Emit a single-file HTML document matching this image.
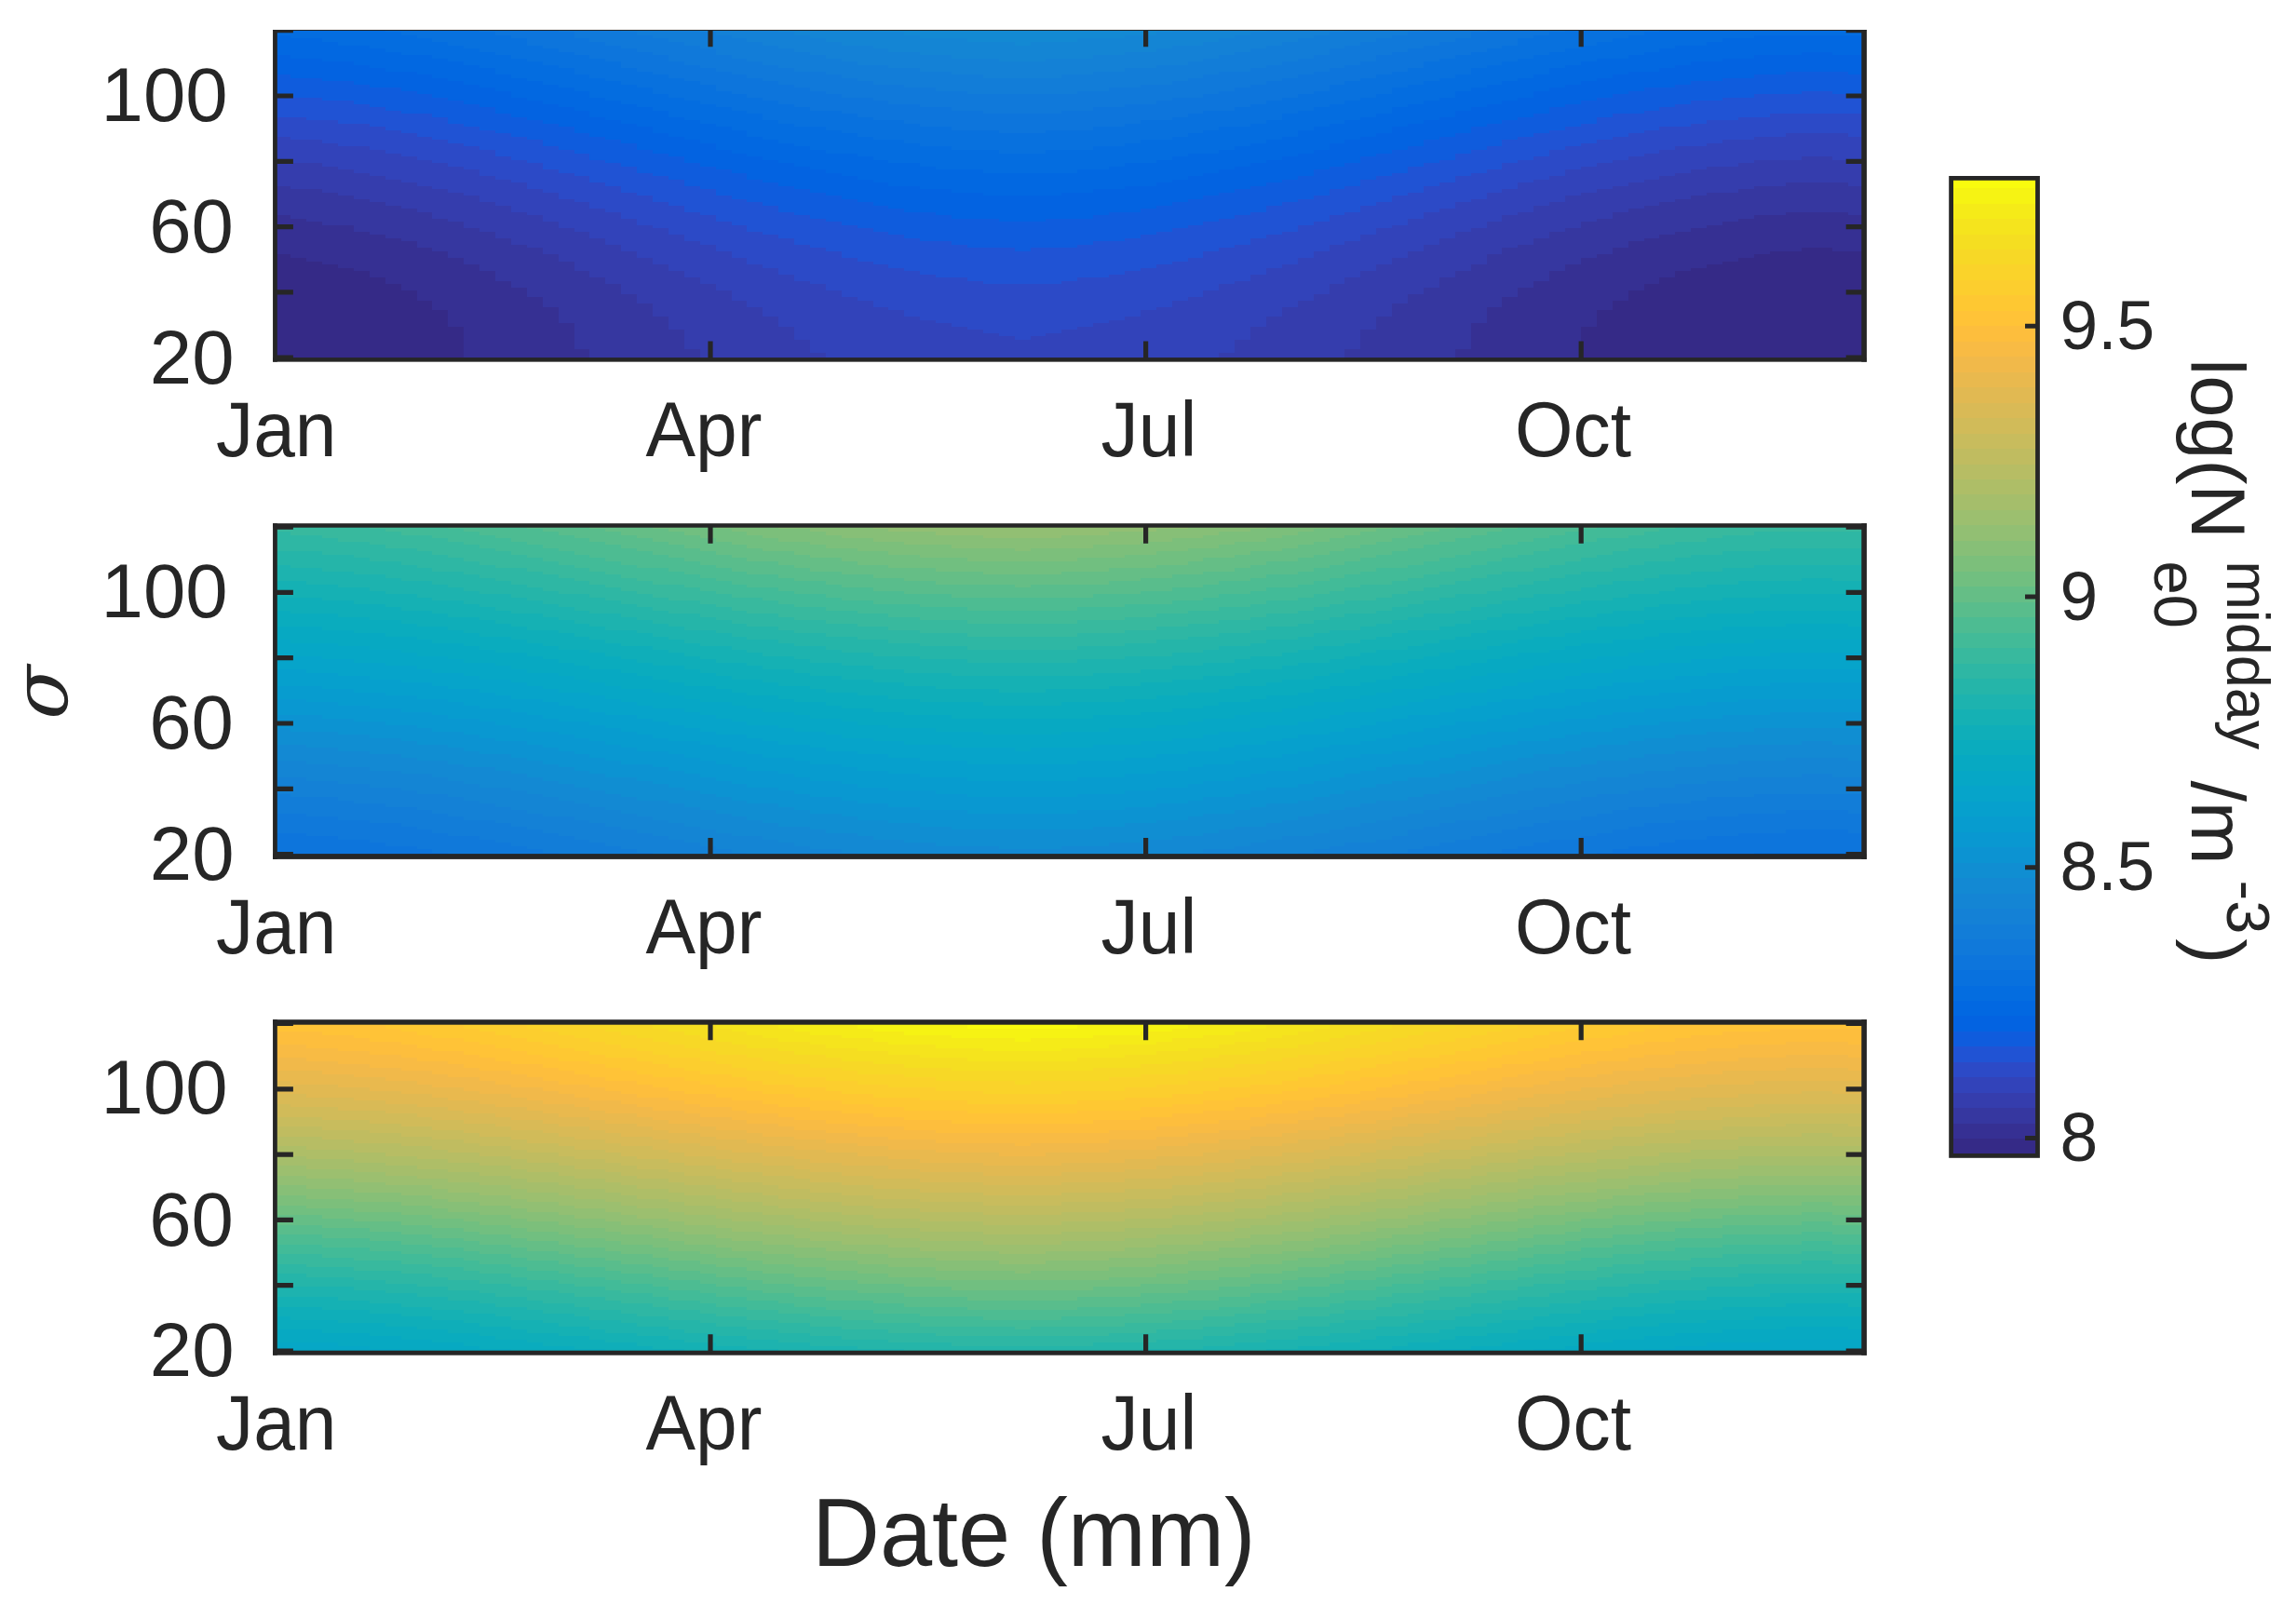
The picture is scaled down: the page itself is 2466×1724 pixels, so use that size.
<!DOCTYPE html>
<html><head><meta charset="utf-8"><title>figure</title>
<style>html,body{margin:0;padding:0;background:#fff}svg{display:block}text{font-family:"Liberation Sans",sans-serif;fill:#262626}</style></head><body>
<svg width="2466" height="1724" viewBox="0 0 2466 1724">
<rect width="2466" height="1724" fill="#fff"/>
<defs><clipPath id="c0"><rect x="0" y="32.0" width="2466" height="1724"/></clipPath></defs>
<g clip-path="url(#c0)"><g transform="translate(295.50 30.94) scale(16.89703 3.51500)" shape-rendering="crispEdges">
<path fill="#352a87" d="M97 67h2v1h-2zM95 68h6v1h-6zM0 69h1v1h-1zM94 69h7v1h-7zM0 70h2v1h-2zM93 70h8v1h-8zM0 71h3v1h-3zM92 71h9v1h-9zM0 72h4v1h-4zM91 72h10v1h-10zM0 73h5v1h-5zM90 73h11v1h-11zM0 74h6v1h-6zM89 74h12v1h-12zM0 75h6v1h-6zM89 75h12v1h-12zM0 76h7v1h-7zM88 76h13v1h-13zM0 77h7v1h-7zM88 77h13v1h-13zM0 78h8v1h-8zM87 78h14v1h-14zM0 79h8v1h-8zM87 79h14v1h-14zM0 80h9v1h-9zM86 80h15v1h-15zM0 81h9v1h-9zM86 81h15v1h-15zM0 82h9v1h-9zM86 82h15v1h-15zM0 83h10v1h-10zM85 83h16v1h-16zM0 84h10v1h-10zM85 84h16v1h-16zM0 85h10v1h-10zM85 85h16v1h-16zM0 86h11v1h-11zM84 86h17v1h-17zM0 87h11v1h-11zM84 87h17v1h-17zM0 88h11v1h-11zM84 88h17v1h-17zM0 89h11v1h-11zM84 89h17v1h-17zM0 90h11v1h-11zM84 90h17v1h-17zM0 91h12v1h-12zM83 91h18v1h-18zM0 92h12v1h-12zM83 92h18v1h-18zM0 93h12v1h-12zM83 93h18v1h-18zM0 94h12v1h-12zM83 94h18v1h-18zM0 95h12v1h-12zM83 95h18v1h-18zM0 96h12v1h-12zM83 96h18v1h-18zM0 97h12v1h-12zM83 97h18v1h-18zM0 98h12v1h-12zM83 98h18v1h-18zM0 99h12v1h-12zM83 99h18v1h-18zM0 100h12v1h-12zM83 100h18v1h-18z"/>
<path fill="#363093" d="M96 56h4v1h-4zM0 57h1v1h-1zM94 57h7v1h-7zM0 58h2v1h-2zM93 58h8v1h-8zM0 59h3v1h-3zM92 59h9v1h-9zM0 60h5v1h-5zM91 60h10v1h-10zM0 61h5v1h-5zM90 61h11v1h-11zM0 62h6v1h-6zM89 62h12v1h-12zM0 63h7v1h-7zM88 63h13v1h-13zM0 64h8v1h-8zM87 64h14v1h-14zM0 65h9v1h-9zM86 65h15v1h-15zM0 66h9v1h-9zM86 66h15v1h-15zM0 67h10v1h-10zM85 67h12v1h-12zM99 67h2v1h-2zM0 68h11v1h-11zM85 68h10v1h-10zM1 69h10v1h-10zM84 69h10v1h-10zM2 70h10v1h-10zM83 70h10v1h-10zM3 71h9v1h-9zM83 71h9v1h-9zM4 72h9v1h-9zM82 72h9v1h-9zM5 73h8v1h-8zM82 73h8v1h-8zM6 74h8v1h-8zM81 74h8v1h-8zM6 75h8v1h-8zM81 75h8v1h-8zM7 76h7v1h-7zM81 76h7v1h-7zM7 77h8v1h-8zM80 77h8v1h-8zM8 78h7v1h-7zM80 78h7v1h-7zM8 79h8v1h-8zM79 79h8v1h-8zM9 80h7v1h-7zM79 80h7v1h-7zM9 81h7v1h-7zM79 81h7v1h-7zM9 82h8v1h-8zM78 82h8v1h-8zM10 83h7v1h-7zM78 83h7v1h-7zM10 84h7v1h-7zM78 84h7v1h-7zM10 85h8v1h-8zM77 85h8v1h-8zM11 86h7v1h-7zM77 86h7v1h-7zM11 87h7v1h-7zM77 87h7v1h-7zM11 88h7v1h-7zM77 88h7v1h-7zM11 89h7v1h-7zM77 89h7v1h-7zM11 90h8v1h-8zM76 90h8v1h-8zM12 91h7v1h-7zM76 91h7v1h-7zM12 92h7v1h-7zM76 92h7v1h-7zM12 93h7v1h-7zM76 93h7v1h-7zM12 94h7v1h-7zM76 94h7v1h-7zM12 95h7v1h-7zM76 95h7v1h-7zM12 96h7v1h-7zM76 96h7v1h-7zM12 97h7v1h-7zM76 97h7v1h-7zM12 98h8v1h-8zM75 98h8v1h-8zM12 99h8v1h-8zM75 99h8v1h-8zM12 100h8v1h-8zM75 100h8v1h-8z"/>
<path fill="#3637a0" d="M96 47h4v1h-4zM0 48h1v1h-1zM94 48h7v1h-7zM0 49h3v1h-3zM93 49h8v1h-8zM0 50h4v1h-4zM91 50h10v1h-10zM0 51h5v1h-5zM90 51h11v1h-11zM0 52h6v1h-6zM89 52h12v1h-12zM0 53h7v1h-7zM88 53h13v1h-13zM0 54h8v1h-8zM87 54h14v1h-14zM0 55h9v1h-9zM86 55h15v1h-15zM0 56h10v1h-10zM85 56h11v1h-11zM100 56h1v1h-1zM1 57h9v1h-9zM85 57h9v1h-9zM2 58h9v1h-9zM84 58h9v1h-9zM3 59h9v1h-9zM83 59h9v1h-9zM5 60h7v1h-7zM83 60h8v1h-8zM5 61h8v1h-8zM82 61h8v1h-8zM6 62h8v1h-8zM81 62h8v1h-8zM7 63h7v1h-7zM81 63h7v1h-7zM8 64h7v1h-7zM80 64h7v1h-7zM9 65h6v1h-6zM80 65h6v1h-6zM9 66h7v1h-7zM79 66h7v1h-7zM10 67h7v1h-7zM78 67h7v1h-7zM11 68h6v1h-6zM78 68h7v1h-7zM11 69h7v1h-7zM77 69h7v1h-7zM12 70h6v1h-6zM77 70h6v1h-6zM12 71h7v1h-7zM77 71h6v1h-6zM13 72h6v1h-6zM76 72h6v1h-6zM13 73h6v1h-6zM76 73h6v1h-6zM14 74h6v1h-6zM75 74h6v1h-6zM14 75h6v1h-6zM75 75h6v1h-6zM14 76h7v1h-7zM74 76h7v1h-7zM15 77h6v1h-6zM74 77h6v1h-6zM15 78h7v1h-7zM74 78h6v1h-6zM16 79h6v1h-6zM73 79h6v1h-6zM16 80h6v1h-6zM73 80h6v1h-6zM16 81h7v1h-7zM72 81h7v1h-7zM17 82h6v1h-6zM72 82h6v1h-6zM17 83h6v1h-6zM72 83h6v1h-6zM17 84h7v1h-7zM71 84h7v1h-7zM18 85h6v1h-6zM71 85h6v1h-6zM18 86h6v1h-6zM71 86h6v1h-6zM18 87h6v1h-6zM71 87h6v1h-6zM18 88h7v1h-7zM70 88h7v1h-7zM18 89h7v1h-7zM70 89h7v1h-7zM19 90h6v1h-6zM70 90h6v1h-6zM19 91h6v1h-6zM70 91h6v1h-6zM19 92h7v1h-7zM69 92h7v1h-7zM19 93h7v1h-7zM69 93h7v1h-7zM19 94h7v1h-7zM69 94h7v1h-7zM19 95h7v1h-7zM69 95h7v1h-7zM19 96h7v1h-7zM69 96h7v1h-7zM19 97h7v1h-7zM69 97h7v1h-7zM20 98h7v1h-7zM68 98h7v1h-7zM20 99h7v1h-7zM68 99h7v1h-7zM20 100h7v1h-7zM68 100h7v1h-7z"/>
<path fill="#353dad" d="M97 39h2v1h-2zM0 40h1v1h-1zM94 40h7v1h-7zM0 41h3v1h-3zM93 41h8v1h-8zM0 42h4v1h-4zM91 42h10v1h-10zM0 43h5v1h-5zM90 43h11v1h-11zM0 44h6v1h-6zM89 44h12v1h-12zM0 45h7v1h-7zM88 45h13v1h-13zM0 46h8v1h-8zM87 46h14v1h-14zM0 47h9v1h-9zM86 47h10v1h-10zM100 47h1v1h-1zM1 48h9v1h-9zM85 48h9v1h-9zM3 49h8v1h-8zM84 49h9v1h-9zM4 50h8v1h-8zM83 50h8v1h-8zM5 51h8v1h-8zM82 51h8v1h-8zM6 52h7v1h-7zM82 52h7v1h-7zM7 53h7v1h-7zM81 53h7v1h-7zM8 54h7v1h-7zM80 54h7v1h-7zM9 55h6v1h-6zM80 55h6v1h-6zM10 56h6v1h-6zM79 56h6v1h-6zM10 57h7v1h-7zM78 57h7v1h-7zM11 58h6v1h-6zM78 58h6v1h-6zM12 59h6v1h-6zM77 59h6v1h-6zM12 60h6v1h-6zM77 60h6v1h-6zM13 61h6v1h-6zM76 61h6v1h-6zM14 62h6v1h-6zM75 62h6v1h-6zM14 63h6v1h-6zM75 63h6v1h-6zM15 64h6v1h-6zM74 64h6v1h-6zM15 65h6v1h-6zM74 65h6v1h-6zM16 66h6v1h-6zM73 66h6v1h-6zM17 67h5v1h-5zM73 67h5v1h-5zM17 68h6v1h-6zM72 68h6v1h-6zM18 69h5v1h-5zM72 69h5v1h-5zM18 70h6v1h-6zM71 70h6v1h-6zM19 71h5v1h-5zM71 71h6v1h-6zM19 72h6v1h-6zM70 72h6v1h-6zM19 73h6v1h-6zM70 73h6v1h-6zM20 74h6v1h-6zM69 74h6v1h-6zM20 75h6v1h-6zM69 75h6v1h-6zM21 76h6v1h-6zM68 76h6v1h-6zM21 77h6v1h-6zM68 77h6v1h-6zM22 78h6v1h-6zM67 78h7v1h-7zM22 79h6v1h-6zM67 79h6v1h-6zM22 80h7v1h-7zM67 80h6v1h-6zM23 81h6v1h-6zM66 81h6v1h-6zM23 82h6v1h-6zM66 82h6v1h-6zM23 83h7v1h-7zM65 83h7v1h-7zM24 84h6v1h-6zM65 84h6v1h-6zM24 85h7v1h-7zM64 85h7v1h-7zM24 86h7v1h-7zM64 86h7v1h-7zM24 87h7v1h-7zM64 87h7v1h-7zM25 88h7v1h-7zM63 88h7v1h-7zM25 89h7v1h-7zM63 89h7v1h-7zM25 90h7v1h-7zM63 90h7v1h-7zM25 91h8v1h-8zM62 91h8v1h-8zM26 92h7v1h-7zM62 92h7v1h-7zM26 93h7v1h-7zM62 93h7v1h-7zM26 94h7v1h-7zM62 94h7v1h-7zM26 95h8v1h-8zM61 95h8v1h-8zM26 96h8v1h-8zM61 96h8v1h-8zM26 97h8v1h-8zM61 97h8v1h-8zM27 98h7v1h-7zM61 98h7v1h-7zM27 99h8v1h-8zM60 99h8v1h-8zM27 100h8v1h-8zM60 100h8v1h-8z"/>
<path fill="#3243ba" d="M96 32h4v1h-4zM0 33h1v1h-1zM94 33h7v1h-7zM0 34h3v1h-3zM92 34h9v1h-9zM0 35h4v1h-4zM91 35h10v1h-10zM0 36h6v1h-6zM89 36h12v1h-12zM0 37h7v1h-7zM88 37h13v1h-13zM0 38h8v1h-8zM87 38h14v1h-14zM0 39h9v1h-9zM86 39h11v1h-11zM99 39h2v1h-2zM1 40h9v1h-9zM85 40h9v1h-9zM3 41h8v1h-8zM84 41h9v1h-9zM4 42h8v1h-8zM83 42h8v1h-8zM5 43h8v1h-8zM82 43h8v1h-8zM6 44h7v1h-7zM82 44h7v1h-7zM7 45h7v1h-7zM81 45h7v1h-7zM8 46h7v1h-7zM80 46h7v1h-7zM9 47h7v1h-7zM79 47h7v1h-7zM10 48h6v1h-6zM79 48h6v1h-6zM11 49h6v1h-6zM78 49h6v1h-6zM12 50h6v1h-6zM77 50h6v1h-6zM13 51h5v1h-5zM77 51h5v1h-5zM13 52h6v1h-6zM76 52h6v1h-6zM14 53h6v1h-6zM75 53h6v1h-6zM15 54h5v1h-5zM75 54h5v1h-5zM15 55h6v1h-6zM74 55h6v1h-6zM16 56h6v1h-6zM73 56h6v1h-6zM17 57h5v1h-5zM73 57h5v1h-5zM17 58h6v1h-6zM72 58h6v1h-6zM18 59h5v1h-5zM72 59h5v1h-5zM18 60h6v1h-6zM71 60h6v1h-6zM19 61h6v1h-6zM70 61h6v1h-6zM20 62h5v1h-5zM70 62h5v1h-5zM20 63h6v1h-6zM69 63h6v1h-6zM21 64h5v1h-5zM69 64h5v1h-5zM21 65h6v1h-6zM68 65h6v1h-6zM22 66h6v1h-6zM67 66h6v1h-6zM22 67h6v1h-6zM67 67h6v1h-6zM23 68h6v1h-6zM66 68h6v1h-6zM23 69h6v1h-6zM66 69h6v1h-6zM24 70h6v1h-6zM65 70h6v1h-6zM24 71h6v1h-6zM65 71h6v1h-6zM25 72h6v1h-6zM64 72h6v1h-6zM25 73h7v1h-7zM63 73h7v1h-7zM26 74h6v1h-6zM63 74h6v1h-6zM26 75h7v1h-7zM62 75h7v1h-7zM27 76h6v1h-6zM62 76h6v1h-6zM27 77h7v1h-7zM61 77h7v1h-7zM28 78h7v1h-7zM60 78h7v1h-7zM28 79h7v1h-7zM60 79h7v1h-7zM29 80h7v1h-7zM59 80h8v1h-8zM29 81h7v1h-7zM59 81h7v1h-7zM29 82h8v1h-8zM58 82h8v1h-8zM30 83h8v1h-8zM57 83h8v1h-8zM30 84h8v1h-8zM57 84h8v1h-8zM31 85h8v1h-8zM56 85h8v1h-8zM31 86h9v1h-9zM55 86h9v1h-9zM31 87h9v1h-9zM55 87h9v1h-9zM32 88h9v1h-9zM54 88h9v1h-9zM32 89h10v1h-10zM53 89h10v1h-10zM32 90h11v1h-11zM52 90h11v1h-11zM33 91h11v1h-11zM51 91h11v1h-11zM33 92h12v1h-12zM50 92h12v1h-12zM33 93h13v1h-13zM49 93h13v1h-13zM33 94h14v1h-14zM48 94h14v1h-14zM34 95h27v1h-27zM34 96h27v1h-27zM34 97h27v1h-27zM34 98h27v1h-27zM35 99h25v1h-25zM35 100h25v1h-25z"/>
<path fill="#2c4ac7" d="M95 26h6v1h-6zM0 27h2v1h-2zM93 27h8v1h-8zM0 28h4v1h-4zM91 28h10v1h-10zM0 29h6v1h-6zM90 29h11v1h-11zM0 30h7v1h-7zM88 30h13v1h-13zM0 31h8v1h-8zM87 31h14v1h-14zM0 32h9v1h-9zM86 32h10v1h-10zM100 32h1v1h-1zM1 33h9v1h-9zM85 33h9v1h-9zM3 34h8v1h-8zM84 34h8v1h-8zM4 35h8v1h-8zM83 35h8v1h-8zM6 36h7v1h-7zM82 36h7v1h-7zM7 37h7v1h-7zM81 37h7v1h-7zM8 38h6v1h-6zM81 38h6v1h-6zM9 39h6v1h-6zM80 39h6v1h-6zM10 40h6v1h-6zM79 40h6v1h-6zM11 41h6v1h-6zM78 41h6v1h-6zM12 42h5v1h-5zM78 42h5v1h-5zM13 43h5v1h-5zM77 43h5v1h-5zM13 44h6v1h-6zM76 44h6v1h-6zM14 45h6v1h-6zM75 45h6v1h-6zM15 46h5v1h-5zM75 46h5v1h-5zM16 47h5v1h-5zM74 47h5v1h-5zM16 48h6v1h-6zM73 48h6v1h-6zM17 49h5v1h-5zM73 49h5v1h-5zM18 50h5v1h-5zM72 50h5v1h-5zM18 51h6v1h-6zM71 51h6v1h-6zM19 52h5v1h-5zM71 52h5v1h-5zM20 53h5v1h-5zM70 53h5v1h-5zM20 54h6v1h-6zM69 54h6v1h-6zM21 55h5v1h-5zM69 55h5v1h-5zM22 56h5v1h-5zM68 56h5v1h-5zM22 57h6v1h-6zM67 57h6v1h-6zM23 58h5v1h-5zM67 58h5v1h-5zM23 59h6v1h-6zM66 59h6v1h-6zM24 60h6v1h-6zM65 60h6v1h-6zM25 61h5v1h-5zM65 61h5v1h-5zM25 62h6v1h-6zM64 62h6v1h-6zM26 63h6v1h-6zM63 63h6v1h-6zM26 64h7v1h-7zM62 64h7v1h-7zM27 65h6v1h-6zM62 65h6v1h-6zM28 66h6v1h-6zM61 66h6v1h-6zM28 67h7v1h-7zM60 67h7v1h-7zM29 68h7v1h-7zM59 68h7v1h-7zM29 69h7v1h-7zM59 69h7v1h-7zM30 70h7v1h-7zM58 70h7v1h-7zM30 71h8v1h-8zM57 71h8v1h-8zM31 72h8v1h-8zM56 72h8v1h-8zM32 73h8v1h-8zM55 73h8v1h-8zM32 74h9v1h-9zM54 74h9v1h-9zM33 75h9v1h-9zM53 75h9v1h-9zM33 76h11v1h-11zM51 76h11v1h-11zM34 77h11v1h-11zM50 77h11v1h-11zM35 78h25v1h-25zM35 79h25v1h-25zM36 80h23v1h-23zM36 81h23v1h-23zM37 82h21v1h-21zM38 83h19v1h-19zM38 84h19v1h-19zM39 85h17v1h-17zM40 86h15v1h-15zM40 87h15v1h-15zM41 88h13v1h-13zM42 89h11v1h-11zM43 90h9v1h-9zM44 91h7v1h-7zM45 92h5v1h-5zM46 93h3v1h-3zM47 94h1v1h-1z"/>
<path fill="#2053d4" d="M97 19h2v1h-2zM0 20h1v1h-1zM94 20h7v1h-7zM0 21h3v1h-3zM92 21h9v1h-9zM0 22h5v1h-5zM90 22h11v1h-11zM0 23h6v1h-6zM89 23h12v1h-12zM0 24h7v1h-7zM88 24h13v1h-13zM0 25h8v1h-8zM87 25h14v1h-14zM0 26h10v1h-10zM85 26h10v1h-10zM2 27h9v1h-9zM84 27h9v1h-9zM4 28h7v1h-7zM84 28h7v1h-7zM6 29h6v1h-6zM83 29h7v1h-7zM7 30h6v1h-6zM82 30h6v1h-6zM8 31h6v1h-6zM81 31h6v1h-6zM9 32h6v1h-6zM80 32h6v1h-6zM10 33h6v1h-6zM79 33h6v1h-6zM11 34h6v1h-6zM78 34h6v1h-6zM12 35h5v1h-5zM78 35h5v1h-5zM13 36h5v1h-5zM77 36h5v1h-5zM14 37h5v1h-5zM76 37h5v1h-5zM14 38h6v1h-6zM75 38h6v1h-6zM15 39h5v1h-5zM75 39h5v1h-5zM16 40h5v1h-5zM74 40h5v1h-5zM17 41h5v1h-5zM73 41h5v1h-5zM17 42h6v1h-6zM72 42h6v1h-6zM18 43h5v1h-5zM72 43h5v1h-5zM19 44h5v1h-5zM71 44h5v1h-5zM20 45h5v1h-5zM70 45h5v1h-5zM20 46h6v1h-6zM69 46h6v1h-6zM21 47h5v1h-5zM69 47h5v1h-5zM22 48h5v1h-5zM68 48h5v1h-5zM22 49h6v1h-6zM67 49h6v1h-6zM23 50h5v1h-5zM67 50h5v1h-5zM24 51h5v1h-5zM66 51h5v1h-5zM24 52h6v1h-6zM65 52h6v1h-6zM25 53h6v1h-6zM64 53h6v1h-6zM26 54h6v1h-6zM63 54h6v1h-6zM26 55h6v1h-6zM63 55h6v1h-6zM27 56h6v1h-6zM62 56h6v1h-6zM28 57h6v1h-6zM61 57h6v1h-6zM28 58h7v1h-7zM60 58h7v1h-7zM29 59h7v1h-7zM59 59h7v1h-7zM30 60h7v1h-7zM58 60h7v1h-7zM30 61h8v1h-8zM57 61h8v1h-8zM31 62h8v1h-8zM56 62h8v1h-8zM32 63h8v1h-8zM55 63h8v1h-8zM33 64h8v1h-8zM54 64h8v1h-8zM33 65h10v1h-10zM52 65h10v1h-10zM34 66h10v1h-10zM51 66h10v1h-10zM35 67h12v1h-12zM48 67h12v1h-12zM36 68h23v1h-23zM36 69h23v1h-23zM37 70h21v1h-21zM38 71h19v1h-19zM39 72h17v1h-17zM40 73h15v1h-15zM41 74h13v1h-13zM42 75h11v1h-11zM44 76h7v1h-7zM45 77h5v1h-5z"/>
<path fill="#0f5cdd" d="M96 13h4v1h-4zM0 14h1v1h-1zM94 14h7v1h-7zM0 15h3v1h-3zM92 15h9v1h-9zM0 16h5v1h-5zM90 16h11v1h-11zM0 17h6v1h-6zM89 17h12v1h-12zM0 18h8v1h-8zM87 18h14v1h-14zM0 19h9v1h-9zM86 19h11v1h-11zM99 19h2v1h-2zM1 20h9v1h-9zM85 20h9v1h-9zM3 21h8v1h-8zM84 21h8v1h-8zM5 22h7v1h-7zM83 22h7v1h-7zM6 23h7v1h-7zM82 23h7v1h-7zM7 24h7v1h-7zM81 24h7v1h-7zM8 25h6v1h-6zM81 25h6v1h-6zM10 26h5v1h-5zM80 26h5v1h-5zM11 27h5v1h-5zM79 27h5v1h-5zM11 28h6v1h-6zM78 28h6v1h-6zM12 29h6v1h-6zM77 29h6v1h-6zM13 30h6v1h-6zM76 30h6v1h-6zM14 31h5v1h-5zM76 31h5v1h-5zM15 32h5v1h-5zM75 32h5v1h-5zM16 33h5v1h-5zM74 33h5v1h-5zM17 34h5v1h-5zM73 34h5v1h-5zM17 35h6v1h-6zM73 35h5v1h-5zM18 36h5v1h-5zM72 36h5v1h-5zM19 37h5v1h-5zM71 37h5v1h-5zM20 38h5v1h-5zM70 38h5v1h-5zM20 39h6v1h-6zM69 39h6v1h-6zM21 40h5v1h-5zM69 40h5v1h-5zM22 41h5v1h-5zM68 41h5v1h-5zM23 42h5v1h-5zM67 42h5v1h-5zM23 43h6v1h-6zM66 43h6v1h-6zM24 44h6v1h-6zM66 44h5v1h-5zM25 45h5v1h-5zM65 45h5v1h-5zM26 46h5v1h-5zM64 46h5v1h-5zM26 47h6v1h-6zM63 47h6v1h-6zM27 48h6v1h-6zM62 48h6v1h-6zM28 49h6v1h-6zM61 49h6v1h-6zM28 50h7v1h-7zM60 50h7v1h-7zM29 51h7v1h-7zM59 51h7v1h-7zM30 52h7v1h-7zM58 52h7v1h-7zM31 53h7v1h-7zM57 53h7v1h-7zM32 54h7v1h-7zM56 54h7v1h-7zM32 55h8v1h-8zM55 55h8v1h-8zM33 56h9v1h-9zM53 56h9v1h-9zM34 57h9v1h-9zM52 57h9v1h-9zM35 58h11v1h-11zM49 58h11v1h-11zM36 59h23v1h-23zM37 60h21v1h-21zM38 61h19v1h-19zM39 62h17v1h-17zM40 63h15v1h-15zM41 64h13v1h-13zM43 65h9v1h-9zM44 66h7v1h-7zM47 67h1v1h-1z"/>
<path fill="#0363e1" d="M97 7h2v1h-2zM0 8h1v1h-1zM94 8h7v1h-7zM0 9h3v1h-3zM92 9h9v1h-9zM0 10h5v1h-5zM90 10h11v1h-11zM0 11h6v1h-6zM89 11h12v1h-12zM0 12h7v1h-7zM88 12h13v1h-13zM0 13h9v1h-9zM86 13h10v1h-10zM100 13h1v1h-1zM1 14h9v1h-9zM85 14h9v1h-9zM3 15h8v1h-8zM84 15h8v1h-8zM5 16h7v1h-7zM83 16h7v1h-7zM6 17h7v1h-7zM82 17h7v1h-7zM8 18h6v1h-6zM81 18h6v1h-6zM9 19h6v1h-6zM80 19h6v1h-6zM10 20h5v1h-5zM80 20h5v1h-5zM11 21h5v1h-5zM79 21h5v1h-5zM12 22h5v1h-5zM78 22h5v1h-5zM13 23h5v1h-5zM77 23h5v1h-5zM14 24h5v1h-5zM76 24h5v1h-5zM14 25h6v1h-6zM75 25h6v1h-6zM15 26h5v1h-5zM75 26h5v1h-5zM16 27h5v1h-5zM74 27h5v1h-5zM17 28h5v1h-5zM73 28h5v1h-5zM18 29h5v1h-5zM72 29h5v1h-5zM19 30h5v1h-5zM71 30h5v1h-5zM19 31h5v1h-5zM71 31h5v1h-5zM20 32h5v1h-5zM70 32h5v1h-5zM21 33h5v1h-5zM69 33h5v1h-5zM22 34h5v1h-5zM68 34h5v1h-5zM23 35h5v1h-5zM67 35h6v1h-6zM23 36h5v1h-5zM67 36h5v1h-5zM24 37h5v1h-5zM66 37h5v1h-5zM25 38h5v1h-5zM65 38h5v1h-5zM26 39h5v1h-5zM64 39h5v1h-5zM26 40h6v1h-6zM63 40h6v1h-6zM27 41h6v1h-6zM62 41h6v1h-6zM28 42h6v1h-6zM61 42h6v1h-6zM29 43h6v1h-6zM60 43h6v1h-6zM30 44h6v1h-6zM59 44h7v1h-7zM30 45h7v1h-7zM58 45h7v1h-7zM31 46h7v1h-7zM57 46h7v1h-7zM32 47h7v1h-7zM56 47h7v1h-7zM33 48h8v1h-8zM54 48h8v1h-8zM34 49h9v1h-9zM52 49h9v1h-9zM35 50h10v1h-10zM50 50h10v1h-10zM36 51h23v1h-23zM37 52h21v1h-21zM38 53h19v1h-19zM39 54h17v1h-17zM40 55h15v1h-15zM42 56h11v1h-11zM43 57h9v1h-9zM46 58h3v1h-3z"/>
<path fill="#0268e1" d="M0 2h1v1h-1zM94 2h7v1h-7zM0 3h3v1h-3zM92 3h9v1h-9zM0 4h4v1h-4zM91 4h10v1h-10zM0 5h6v1h-6zM89 5h12v1h-12zM0 6h7v1h-7zM88 6h13v1h-13zM0 7h8v1h-8zM87 7h10v1h-10zM99 7h2v1h-2zM1 8h9v1h-9zM86 8h8v1h-8zM3 9h8v1h-8zM84 9h8v1h-8zM5 10h7v1h-7zM83 10h7v1h-7zM6 11h7v1h-7zM82 11h7v1h-7zM7 12h7v1h-7zM81 12h7v1h-7zM9 13h5v1h-5zM81 13h5v1h-5zM10 14h5v1h-5zM80 14h5v1h-5zM11 15h5v1h-5zM79 15h5v1h-5zM12 16h5v1h-5zM78 16h5v1h-5zM13 17h5v1h-5zM77 17h5v1h-5zM14 18h5v1h-5zM76 18h5v1h-5zM15 19h5v1h-5zM75 19h5v1h-5zM15 20h5v1h-5zM75 20h5v1h-5zM16 21h5v1h-5zM74 21h5v1h-5zM17 22h5v1h-5zM73 22h5v1h-5zM18 23h5v1h-5zM72 23h5v1h-5zM19 24h5v1h-5zM71 24h5v1h-5zM20 25h5v1h-5zM71 25h4v1h-4zM20 26h5v1h-5zM70 26h5v1h-5zM21 27h5v1h-5zM69 27h5v1h-5zM22 28h5v1h-5zM68 28h5v1h-5zM23 29h5v1h-5zM67 29h5v1h-5zM24 30h5v1h-5zM66 30h5v1h-5zM24 31h6v1h-6zM65 31h6v1h-6zM25 32h5v1h-5zM65 32h5v1h-5zM26 33h5v1h-5zM64 33h5v1h-5zM27 34h5v1h-5zM63 34h5v1h-5zM28 35h5v1h-5zM62 35h5v1h-5zM28 36h6v1h-6zM61 36h6v1h-6zM29 37h6v1h-6zM60 37h6v1h-6zM30 38h7v1h-7zM58 38h7v1h-7zM31 39h7v1h-7zM57 39h7v1h-7zM32 40h7v1h-7zM56 40h7v1h-7zM33 41h8v1h-8zM54 41h8v1h-8zM34 42h8v1h-8zM53 42h8v1h-8zM35 43h10v1h-10zM51 43h9v1h-9zM36 44h23v1h-23zM37 45h21v1h-21zM38 46h19v1h-19zM39 47h17v1h-17zM41 48h13v1h-13zM43 49h9v1h-9zM45 50h5v1h-5z"/>
<path fill="#046de0" d="M0 0h7v1h-7zM88 0h13v1h-13zM0 1h8v1h-8zM87 1h14v1h-14zM1 2h8v1h-8zM86 2h8v1h-8zM3 3h7v1h-7zM85 3h7v1h-7zM4 4h7v1h-7zM84 4h7v1h-7zM6 5h6v1h-6zM83 5h6v1h-6zM7 6h6v1h-6zM82 6h6v1h-6zM8 7h6v1h-6zM81 7h6v1h-6zM10 8h5v1h-5zM80 8h6v1h-6zM11 9h5v1h-5zM79 9h5v1h-5zM12 10h5v1h-5zM78 10h5v1h-5zM13 11h5v1h-5zM77 11h5v1h-5zM14 12h5v1h-5zM76 12h5v1h-5zM14 13h5v1h-5zM76 13h5v1h-5zM15 14h5v1h-5zM75 14h5v1h-5zM16 15h5v1h-5zM74 15h5v1h-5zM17 16h5v1h-5zM73 16h5v1h-5zM18 17h5v1h-5zM72 17h5v1h-5zM19 18h5v1h-5zM71 18h5v1h-5zM20 19h4v1h-4zM71 19h4v1h-4zM20 20h5v1h-5zM70 20h5v1h-5zM21 21h5v1h-5zM69 21h5v1h-5zM22 22h5v1h-5zM68 22h5v1h-5zM23 23h5v1h-5zM67 23h5v1h-5zM24 24h5v1h-5zM66 24h5v1h-5zM25 25h5v1h-5zM65 25h6v1h-6zM25 26h6v1h-6zM64 26h6v1h-6zM26 27h5v1h-5zM64 27h5v1h-5zM27 28h5v1h-5zM63 28h5v1h-5zM28 29h5v1h-5zM62 29h5v1h-5zM29 30h6v1h-6zM60 30h6v1h-6zM30 31h6v1h-6zM59 31h6v1h-6zM30 32h7v1h-7zM58 32h7v1h-7zM31 33h7v1h-7zM57 33h7v1h-7zM32 34h8v1h-8zM55 34h8v1h-8zM33 35h8v1h-8zM54 35h8v1h-8zM34 36h9v1h-9zM52 36h9v1h-9zM35 37h11v1h-11zM49 37h11v1h-11zM37 38h21v1h-21zM38 39h19v1h-19zM39 40h17v1h-17zM41 41h13v1h-13zM42 42h11v1h-11zM45 43h6v1h-6z"/>
<path fill="#0871de" d="M7 0h6v1h-6zM82 0h6v1h-6zM8 1h6v1h-6zM81 1h6v1h-6zM9 2h6v1h-6zM80 2h6v1h-6zM10 3h6v1h-6zM79 3h6v1h-6zM11 4h5v1h-5zM79 4h5v1h-5zM12 5h5v1h-5zM78 5h5v1h-5zM13 6h5v1h-5zM77 6h5v1h-5zM14 7h5v1h-5zM76 7h5v1h-5zM15 8h5v1h-5zM75 8h5v1h-5zM16 9h5v1h-5zM74 9h5v1h-5zM17 10h5v1h-5zM73 10h5v1h-5zM18 11h4v1h-4zM73 11h4v1h-4zM19 12h4v1h-4zM72 12h4v1h-4zM19 13h5v1h-5zM71 13h5v1h-5zM20 14h5v1h-5zM70 14h5v1h-5zM21 15h5v1h-5zM69 15h5v1h-5zM22 16h5v1h-5zM68 16h5v1h-5zM23 17h5v1h-5zM67 17h5v1h-5zM24 18h4v1h-4zM67 18h4v1h-4zM24 19h5v1h-5zM66 19h5v1h-5zM25 20h5v1h-5zM65 20h5v1h-5zM26 21h5v1h-5zM64 21h5v1h-5zM27 22h5v1h-5zM63 22h5v1h-5zM28 23h5v1h-5zM62 23h5v1h-5zM29 24h5v1h-5zM61 24h5v1h-5zM30 25h6v1h-6zM59 25h6v1h-6zM31 26h6v1h-6zM58 26h6v1h-6zM31 27h7v1h-7zM57 27h7v1h-7zM32 28h8v1h-8zM55 28h8v1h-8zM33 29h8v1h-8zM54 29h8v1h-8zM35 30h8v1h-8zM52 30h8v1h-8zM36 31h10v1h-10zM49 31h10v1h-10zM37 32h21v1h-21zM38 33h19v1h-19zM40 34h15v1h-15zM41 35h13v1h-13zM43 36h9v1h-9zM46 37h3v1h-3z"/>
<path fill="#0d75dc" d="M13 0h5v1h-5zM77 0h5v1h-5zM14 1h5v1h-5zM76 1h5v1h-5zM15 2h4v1h-4zM76 2h4v1h-4zM16 3h4v1h-4zM75 3h4v1h-4zM16 4h5v1h-5zM74 4h5v1h-5zM17 5h5v1h-5zM73 5h5v1h-5zM18 6h5v1h-5zM72 6h5v1h-5zM19 7h5v1h-5zM71 7h5v1h-5zM20 8h5v1h-5zM70 8h5v1h-5zM21 9h4v1h-4zM70 9h4v1h-4zM22 10h4v1h-4zM69 10h4v1h-4zM22 11h5v1h-5zM68 11h5v1h-5zM23 12h5v1h-5zM67 12h5v1h-5zM24 13h5v1h-5zM66 13h5v1h-5zM25 14h5v1h-5zM65 14h5v1h-5zM26 15h5v1h-5zM64 15h5v1h-5zM27 16h5v1h-5zM63 16h5v1h-5zM28 17h5v1h-5zM62 17h5v1h-5zM28 18h6v1h-6zM61 18h6v1h-6zM29 19h6v1h-6zM60 19h6v1h-6zM30 20h6v1h-6zM59 20h6v1h-6zM31 21h7v1h-7zM57 21h7v1h-7zM32 22h7v1h-7zM56 22h7v1h-7zM33 23h8v1h-8zM54 23h8v1h-8zM34 24h9v1h-9zM52 24h9v1h-9zM36 25h9v1h-9zM50 25h9v1h-9zM37 26h21v1h-21zM38 27h19v1h-19zM40 28h15v1h-15zM41 29h13v1h-13zM43 30h9v1h-9zM46 31h3v1h-3z"/>
<path fill="#1079da" d="M18 0h4v1h-4zM73 0h4v1h-4zM19 1h4v1h-4zM72 1h4v1h-4zM19 2h5v1h-5zM71 2h5v1h-5zM20 3h5v1h-5zM70 3h5v1h-5zM21 4h5v1h-5zM69 4h5v1h-5zM22 5h5v1h-5zM68 5h5v1h-5zM23 6h5v1h-5zM67 6h5v1h-5zM24 7h4v1h-4zM67 7h4v1h-4zM25 8h4v1h-4zM66 8h4v1h-4zM25 9h5v1h-5zM65 9h5v1h-5zM26 10h5v1h-5zM64 10h5v1h-5zM27 11h5v1h-5zM63 11h5v1h-5zM28 12h5v1h-5zM62 12h5v1h-5zM29 13h6v1h-6zM60 13h6v1h-6zM30 14h6v1h-6zM59 14h6v1h-6zM31 15h6v1h-6zM58 15h6v1h-6zM32 16h6v1h-6zM57 16h6v1h-6zM33 17h7v1h-7zM55 17h7v1h-7zM34 18h8v1h-8zM53 18h8v1h-8zM35 19h9v1h-9zM51 19h9v1h-9zM36 20h23v1h-23zM38 21h19v1h-19zM39 22h17v1h-17zM41 23h13v1h-13zM43 24h9v1h-9zM45 25h5v1h-5z"/>
<path fill="#127dd8" d="M22 0h5v1h-5zM68 0h5v1h-5zM23 1h5v1h-5zM67 1h5v1h-5zM24 2h5v1h-5zM66 2h5v1h-5zM25 3h5v1h-5zM65 3h5v1h-5zM26 4h5v1h-5zM64 4h5v1h-5zM27 5h5v1h-5zM63 5h5v1h-5zM28 6h5v1h-5zM62 6h5v1h-5zM28 7h6v1h-6zM61 7h6v1h-6zM29 8h6v1h-6zM60 8h6v1h-6zM30 9h6v1h-6zM59 9h6v1h-6zM31 10h6v1h-6zM58 10h6v1h-6zM32 11h7v1h-7zM56 11h7v1h-7zM33 12h8v1h-8zM54 12h8v1h-8zM35 13h8v1h-8zM52 13h8v1h-8zM36 14h9v1h-9zM50 14h9v1h-9zM37 15h21v1h-21zM38 16h19v1h-19zM40 17h15v1h-15zM42 18h11v1h-11zM44 19h7v1h-7z"/>
<path fill="#1481d6" d="M27 0h5v1h-5zM63 0h5v1h-5zM28 1h5v1h-5zM62 1h5v1h-5zM29 2h5v1h-5zM61 2h5v1h-5zM30 3h5v1h-5zM60 3h5v1h-5zM31 4h5v1h-5zM59 4h5v1h-5zM32 5h6v1h-6zM57 5h6v1h-6zM33 6h6v1h-6zM56 6h6v1h-6zM34 7h7v1h-7zM54 7h7v1h-7zM35 8h8v1h-8zM52 8h8v1h-8zM36 9h10v1h-10zM49 9h10v1h-10zM37 10h21v1h-21zM39 11h17v1h-17zM41 12h13v1h-13zM43 13h9v1h-9zM45 14h5v1h-5z"/>
<path fill="#1485d4" d="M32 0h6v1h-6zM57 0h6v1h-6zM33 1h7v1h-7zM56 1h6v1h-6zM34 2h7v1h-7zM54 2h7v1h-7zM35 3h9v1h-9zM51 3h9v1h-9zM36 4h11v1h-11zM48 4h11v1h-11zM38 5h19v1h-19zM39 6h17v1h-17zM41 7h13v1h-13zM43 8h9v1h-9zM46 9h3v1h-3z"/>
<path fill="#1389d3" d="M38 0h19v1h-19zM40 1h16v1h-16zM41 2h13v1h-13zM44 3h7v1h-7zM47 4h1v1h-1z"/>
</g></g>
<g clip-path="url(#c0)"><rect x="293.05" y="28.60" width="1711.90" height="4.40" fill="#262626"/>
<rect x="293.05" y="384.10" width="1711.90" height="4.55" fill="#262626"/>
<rect x="293.05" y="28.60" width="4.75" height="360.05" fill="#262626"/>
<rect x="1999.30" y="28.60" width="5.65" height="360.05" fill="#262626"/>
<path d="M295.50 384.20h19.40M2002.10 384.20h-19.40M295.50 313.90h19.40M2002.10 313.90h-19.40M295.50 243.60h19.40M2002.10 243.60h-19.40M295.50 173.30h19.40M2002.10 173.30h-19.40M295.50 103.00h19.40M2002.10 103.00h-19.40M295.50 32.70h19.40M2002.10 32.70h-19.40M763.00 385.96v-19.40M763.00 30.94v19.40M1230.60 385.96v-19.40M1230.60 30.94v19.40M1698.20 385.96v-19.40M1698.20 30.94v19.40" stroke="#262626" stroke-width="5.20" fill="none"/></g>
<text x="244.60" y="129.60" font-size="81.50" text-anchor="end">100</text>
<text x="250.80" y="271.00" font-size="81.50" text-anchor="end">60</text>
<text x="251.50" y="411.50" font-size="81.50" text-anchor="end">20</text>
<text transform="translate(232.00 490.30) scale(0.9680 1)" font-size="83.00" text-anchor="start">Jan</text>
<text transform="translate(693.50 490.30) scale(0.9680 1)" font-size="83.00" text-anchor="start">Apr</text>
<text transform="translate(1182.60 490.30) scale(0.9680 1)" font-size="83.00" text-anchor="start">Jul</text>
<text transform="translate(1627.00 490.30) scale(0.9680 1)" font-size="83.00" text-anchor="start">Oct</text>
<g transform="translate(295.50 564.34) scale(16.89703 3.51500)" shape-rendering="crispEdges">
<path fill="#0871de" d="M0 100h1v1h-1zM94 100h7v1h-7z"/>
<path fill="#0d75dc" d="M96 93h4v1h-4zM0 94h2v1h-2zM93 94h8v1h-8zM0 95h4v1h-4zM91 95h10v1h-10zM0 96h6v1h-6zM89 96h12v1h-12zM0 97h7v1h-7zM88 97h13v1h-13zM0 98h9v1h-9zM86 98h15v1h-15zM0 99h10v1h-10zM85 99h16v1h-16zM1 100h10v1h-10zM84 100h10v1h-10z"/>
<path fill="#1079da" d="M96 87h4v1h-4zM0 88h2v1h-2zM93 88h8v1h-8zM0 89h4v1h-4zM91 89h10v1h-10zM0 90h6v1h-6zM89 90h12v1h-12zM0 91h8v1h-8zM87 91h14v1h-14zM0 92h9v1h-9zM86 92h15v1h-15zM0 93h10v1h-10zM85 93h11v1h-11zM100 93h1v1h-1zM2 94h9v1h-9zM84 94h9v1h-9zM4 95h9v1h-9zM83 95h8v1h-8zM6 96h8v1h-8zM81 96h8v1h-8zM7 97h8v1h-8zM80 97h8v1h-8zM9 98h7v1h-7zM79 98h7v1h-7zM10 99h7v1h-7zM78 99h7v1h-7zM11 100h7v1h-7zM77 100h7v1h-7z"/>
<path fill="#127dd8" d="M0 82h1v1h-1zM94 82h7v1h-7zM0 83h4v1h-4zM91 83h10v1h-10zM0 84h5v1h-5zM90 84h11v1h-11zM0 85h7v1h-7zM88 85h13v1h-13zM0 86h9v1h-9zM86 86h15v1h-15zM0 87h10v1h-10zM85 87h11v1h-11zM100 87h1v1h-1zM2 88h9v1h-9zM84 88h9v1h-9zM4 89h8v1h-8zM83 89h8v1h-8zM6 90h8v1h-8zM81 90h8v1h-8zM8 91h7v1h-7zM80 91h7v1h-7zM9 92h7v1h-7zM79 92h7v1h-7zM10 93h7v1h-7zM78 93h7v1h-7zM11 94h7v1h-7zM77 94h7v1h-7zM13 95h6v1h-6zM76 95h7v1h-7zM14 96h6v1h-6zM75 96h6v1h-6zM15 97h6v1h-6zM74 97h6v1h-6zM16 98h6v1h-6zM73 98h6v1h-6zM17 99h6v1h-6zM72 99h6v1h-6zM18 100h6v1h-6zM71 100h6v1h-6z"/>
<path fill="#1481d6" d="M97 76h2v1h-2zM0 77h2v1h-2zM93 77h8v1h-8zM0 78h4v1h-4zM91 78h10v1h-10zM0 79h6v1h-6zM89 79h12v1h-12zM0 80h8v1h-8zM87 80h14v1h-14zM0 81h9v1h-9zM86 81h15v1h-15zM1 82h10v1h-10zM84 82h10v1h-10zM4 83h8v1h-8zM83 83h8v1h-8zM5 84h8v1h-8zM82 84h8v1h-8zM7 85h7v1h-7zM81 85h7v1h-7zM9 86h6v1h-6zM80 86h6v1h-6zM10 87h6v1h-6zM79 87h6v1h-6zM11 88h6v1h-6zM78 88h6v1h-6zM12 89h7v1h-7zM77 89h6v1h-6zM14 90h6v1h-6zM75 90h6v1h-6zM15 91h6v1h-6zM74 91h6v1h-6zM16 92h6v1h-6zM73 92h6v1h-6zM17 93h6v1h-6zM72 93h6v1h-6zM18 94h6v1h-6zM72 94h5v1h-5zM19 95h6v1h-6zM71 95h5v1h-5zM20 96h6v1h-6zM70 96h5v1h-5zM21 97h6v1h-6zM68 97h6v1h-6zM22 98h6v1h-6zM67 98h6v1h-6zM23 99h6v1h-6zM66 99h6v1h-6zM24 100h6v1h-6zM65 100h6v1h-6z"/>
<path fill="#1485d4" d="M96 71h4v1h-4zM0 72h2v1h-2zM93 72h8v1h-8zM0 73h4v1h-4zM91 73h10v1h-10zM0 74h6v1h-6zM89 74h12v1h-12zM0 75h8v1h-8zM87 75h14v1h-14zM0 76h10v1h-10zM86 76h11v1h-11zM99 76h2v1h-2zM2 77h9v1h-9zM84 77h9v1h-9zM4 78h8v1h-8zM83 78h8v1h-8zM6 79h7v1h-7zM82 79h7v1h-7zM8 80h7v1h-7zM80 80h7v1h-7zM9 81h7v1h-7zM79 81h7v1h-7zM11 82h6v1h-6zM78 82h6v1h-6zM12 83h6v1h-6zM77 83h6v1h-6zM13 84h6v1h-6zM76 84h6v1h-6zM14 85h6v1h-6zM75 85h6v1h-6zM15 86h6v1h-6zM74 86h6v1h-6zM16 87h6v1h-6zM73 87h6v1h-6zM17 88h6v1h-6zM72 88h6v1h-6zM19 89h5v1h-5zM71 89h6v1h-6zM20 90h5v1h-5zM70 90h5v1h-5zM21 91h5v1h-5zM69 91h5v1h-5zM22 92h5v1h-5zM68 92h5v1h-5zM23 93h5v1h-5zM67 93h5v1h-5zM24 94h5v1h-5zM66 94h6v1h-6zM25 95h6v1h-6zM64 95h7v1h-7zM26 96h6v1h-6zM63 96h7v1h-7zM27 97h6v1h-6zM62 97h6v1h-6zM28 98h6v1h-6zM61 98h6v1h-6zM29 99h7v1h-7zM59 99h7v1h-7zM30 100h7v1h-7zM58 100h7v1h-7z"/>
<path fill="#1389d3" d="M97 66h2v1h-2zM0 67h2v1h-2zM93 67h8v1h-8zM0 68h4v1h-4zM91 68h10v1h-10zM0 69h6v1h-6zM89 69h12v1h-12zM0 70h8v1h-8zM87 70h14v1h-14zM0 71h9v1h-9zM86 71h10v1h-10zM100 71h1v1h-1zM2 72h9v1h-9zM84 72h9v1h-9zM4 73h8v1h-8zM83 73h8v1h-8zM6 74h8v1h-8zM81 74h8v1h-8zM8 75h7v1h-7zM80 75h7v1h-7zM10 76h6v1h-6zM79 76h7v1h-7zM11 77h6v1h-6zM78 77h6v1h-6zM12 78h6v1h-6zM77 78h6v1h-6zM13 79h6v1h-6zM76 79h6v1h-6zM15 80h5v1h-5zM75 80h5v1h-5zM16 81h5v1h-5zM74 81h5v1h-5zM17 82h5v1h-5zM73 82h5v1h-5zM18 83h5v1h-5zM72 83h5v1h-5zM19 84h6v1h-6zM70 84h6v1h-6zM20 85h6v1h-6zM69 85h6v1h-6zM21 86h6v1h-6zM68 86h6v1h-6zM22 87h6v1h-6zM67 87h6v1h-6zM23 88h6v1h-6zM66 88h6v1h-6zM24 89h6v1h-6zM65 89h6v1h-6zM25 90h6v1h-6zM64 90h6v1h-6zM26 91h6v1h-6zM63 91h6v1h-6zM27 92h7v1h-7zM61 92h7v1h-7zM28 93h7v1h-7zM60 93h7v1h-7zM29 94h8v1h-8zM59 94h7v1h-7zM31 95h7v1h-7zM57 95h7v1h-7zM32 96h8v1h-8zM55 96h8v1h-8zM33 97h9v1h-9zM53 97h9v1h-9zM34 98h12v1h-12zM50 98h11v1h-11zM36 99h23v1h-23zM37 100h21v1h-21z"/>
<path fill="#108ed2" d="M0 62h1v1h-1zM94 62h7v1h-7zM0 63h4v1h-4zM91 63h10v1h-10zM0 64h6v1h-6zM89 64h12v1h-12zM0 65h8v1h-8zM87 65h14v1h-14zM0 66h9v1h-9zM86 66h11v1h-11zM99 66h2v1h-2zM2 67h9v1h-9zM84 67h9v1h-9zM4 68h8v1h-8zM83 68h8v1h-8zM6 69h7v1h-7zM82 69h7v1h-7zM8 70h7v1h-7zM80 70h7v1h-7zM9 71h7v1h-7zM79 71h7v1h-7zM11 72h6v1h-6zM78 72h6v1h-6zM12 73h6v1h-6zM77 73h6v1h-6zM14 74h5v1h-5zM76 74h5v1h-5zM15 75h5v1h-5zM75 75h5v1h-5zM16 76h5v1h-5zM74 76h5v1h-5zM17 77h6v1h-6zM72 77h6v1h-6zM18 78h6v1h-6zM71 78h6v1h-6zM19 79h6v1h-6zM70 79h6v1h-6zM20 80h6v1h-6zM69 80h6v1h-6zM21 81h6v1h-6zM68 81h6v1h-6zM22 82h6v1h-6zM67 82h6v1h-6zM23 83h6v1h-6zM66 83h6v1h-6zM25 84h5v1h-5zM65 84h5v1h-5zM26 85h6v1h-6zM63 85h6v1h-6zM27 86h6v1h-6zM62 86h6v1h-6zM28 87h6v1h-6zM61 87h6v1h-6zM29 88h7v1h-7zM59 88h7v1h-7zM30 89h7v1h-7zM58 89h7v1h-7zM31 90h8v1h-8zM56 90h8v1h-8zM32 91h9v1h-9zM54 91h9v1h-9zM34 92h9v1h-9zM52 92h9v1h-9zM35 93h25v1h-25zM37 94h22v1h-22zM38 95h19v1h-19zM40 96h15v1h-15zM42 97h11v1h-11zM46 98h4v1h-4z"/>
<path fill="#0c93d2" d="M95 57h6v1h-6zM0 58h3v1h-3zM92 58h9v1h-9zM0 59h5v1h-5zM90 59h11v1h-11zM0 60h7v1h-7zM88 60h13v1h-13zM0 61h9v1h-9zM86 61h15v1h-15zM1 62h9v1h-9zM85 62h9v1h-9zM4 63h8v1h-8zM83 63h8v1h-8zM6 64h7v1h-7zM82 64h7v1h-7zM8 65h6v1h-6zM81 65h6v1h-6zM9 66h7v1h-7zM79 66h7v1h-7zM11 67h6v1h-6zM78 67h6v1h-6zM12 68h6v1h-6zM77 68h6v1h-6zM13 69h6v1h-6zM76 69h6v1h-6zM15 70h5v1h-5zM75 70h5v1h-5zM16 71h5v1h-5zM74 71h5v1h-5zM17 72h5v1h-5zM73 72h5v1h-5zM18 73h6v1h-6zM71 73h6v1h-6zM19 74h6v1h-6zM70 74h6v1h-6zM20 75h6v1h-6zM69 75h6v1h-6zM21 76h6v1h-6zM68 76h6v1h-6zM23 77h5v1h-5zM67 77h5v1h-5zM24 78h5v1h-5zM66 78h5v1h-5zM25 79h5v1h-5zM65 79h5v1h-5zM26 80h6v1h-6zM63 80h6v1h-6zM27 81h6v1h-6zM62 81h6v1h-6zM28 82h6v1h-6zM61 82h6v1h-6zM29 83h7v1h-7zM59 83h7v1h-7zM30 84h7v1h-7zM58 84h7v1h-7zM32 85h7v1h-7zM56 85h7v1h-7zM33 86h8v1h-8zM54 86h8v1h-8zM34 87h10v1h-10zM51 87h10v1h-10zM36 88h23v1h-23zM37 89h21v1h-21zM39 90h17v1h-17zM41 91h13v1h-13zM43 92h9v1h-9z"/>
<path fill="#0998d1" d="M0 53h2v1h-2zM93 53h8v1h-8zM0 54h4v1h-4zM91 54h10v1h-10zM0 55h6v1h-6zM89 55h12v1h-12zM0 56h8v1h-8zM87 56h14v1h-14zM0 57h10v1h-10zM85 57h10v1h-10zM3 58h8v1h-8zM84 58h8v1h-8zM5 59h8v1h-8zM82 59h8v1h-8zM7 60h7v1h-7zM81 60h7v1h-7zM9 61h6v1h-6zM80 61h6v1h-6zM10 62h6v1h-6zM79 62h6v1h-6zM12 63h6v1h-6zM77 63h6v1h-6zM13 64h6v1h-6zM76 64h6v1h-6zM14 65h6v1h-6zM75 65h6v1h-6zM16 66h5v1h-5zM74 66h5v1h-5zM17 67h5v1h-5zM73 67h5v1h-5zM18 68h5v1h-5zM72 68h5v1h-5zM19 69h6v1h-6zM71 69h5v1h-5zM20 70h6v1h-6zM69 70h6v1h-6zM21 71h6v1h-6zM68 71h6v1h-6zM22 72h6v1h-6zM67 72h6v1h-6zM24 73h5v1h-5zM66 73h5v1h-5zM25 74h5v1h-5zM65 74h5v1h-5zM26 75h6v1h-6zM63 75h6v1h-6zM27 76h6v1h-6zM62 76h6v1h-6zM28 77h6v1h-6zM61 77h6v1h-6zM29 78h7v1h-7zM59 78h7v1h-7zM30 79h7v1h-7zM58 79h7v1h-7zM32 80h7v1h-7zM56 80h7v1h-7zM33 81h9v1h-9zM54 81h8v1h-8zM34 82h10v1h-10zM51 82h10v1h-10zM36 83h23v1h-23zM37 84h21v1h-21zM39 85h17v1h-17zM41 86h13v1h-13zM44 87h7v1h-7z"/>
<path fill="#079ccf" d="M95 48h6v1h-6zM0 49h3v1h-3zM92 49h9v1h-9zM0 50h5v1h-5zM90 50h11v1h-11zM0 51h7v1h-7zM88 51h13v1h-13zM0 52h9v1h-9zM86 52h15v1h-15zM2 53h9v1h-9zM84 53h9v1h-9zM4 54h8v1h-8zM83 54h8v1h-8zM6 55h7v1h-7zM82 55h7v1h-7zM8 56h7v1h-7zM80 56h7v1h-7zM10 57h6v1h-6zM79 57h6v1h-6zM11 58h6v1h-6zM78 58h6v1h-6zM13 59h5v1h-5zM77 59h5v1h-5zM14 60h6v1h-6zM75 60h6v1h-6zM15 61h6v1h-6zM74 61h6v1h-6zM16 62h6v1h-6zM73 62h6v1h-6zM18 63h5v1h-5zM72 63h5v1h-5zM19 64h5v1h-5zM71 64h5v1h-5zM20 65h5v1h-5zM70 65h5v1h-5zM21 66h6v1h-6zM69 66h5v1h-5zM22 67h6v1h-6zM67 67h6v1h-6zM23 68h6v1h-6zM66 68h6v1h-6zM25 69h5v1h-5zM65 69h6v1h-6zM26 70h5v1h-5zM64 70h5v1h-5zM27 71h6v1h-6zM62 71h6v1h-6zM28 72h6v1h-6zM61 72h6v1h-6zM29 73h7v1h-7zM59 73h7v1h-7zM30 74h7v1h-7zM58 74h7v1h-7zM32 75h7v1h-7zM56 75h7v1h-7zM33 76h8v1h-8zM54 76h8v1h-8zM34 77h10v1h-10zM51 77h10v1h-10zM36 78h23v1h-23zM37 79h21v1h-21zM39 80h17v1h-17zM42 81h12v1h-12zM44 82h7v1h-7z"/>
<path fill="#06a0cd" d="M0 44h2v1h-2zM93 44h8v1h-8zM0 45h4v1h-4zM91 45h10v1h-10zM0 46h6v1h-6zM89 46h12v1h-12zM0 47h8v1h-8zM87 47h14v1h-14zM0 48h10v1h-10zM85 48h10v1h-10zM3 49h8v1h-8zM84 49h8v1h-8zM5 50h8v1h-8zM82 50h8v1h-8zM7 51h7v1h-7zM81 51h7v1h-7zM9 52h6v1h-6zM80 52h6v1h-6zM11 53h6v1h-6zM78 53h6v1h-6zM12 54h6v1h-6zM77 54h6v1h-6zM13 55h6v1h-6zM76 55h6v1h-6zM15 56h5v1h-5zM75 56h5v1h-5zM16 57h5v1h-5zM74 57h5v1h-5zM17 58h6v1h-6zM72 58h6v1h-6zM18 59h6v1h-6zM71 59h6v1h-6zM20 60h5v1h-5zM70 60h5v1h-5zM21 61h5v1h-5zM69 61h5v1h-5zM22 62h5v1h-5zM68 62h5v1h-5zM23 63h5v1h-5zM67 63h5v1h-5zM24 64h6v1h-6zM65 64h6v1h-6zM25 65h6v1h-6zM64 65h6v1h-6zM27 66h5v1h-5zM63 66h6v1h-6zM28 67h6v1h-6zM61 67h6v1h-6zM29 68h6v1h-6zM60 68h6v1h-6zM30 69h7v1h-7zM58 69h7v1h-7zM31 70h8v1h-8zM56 70h8v1h-8zM33 71h8v1h-8zM54 71h8v1h-8zM34 72h10v1h-10zM51 72h10v1h-10zM36 73h23v1h-23zM37 74h21v1h-21zM39 75h17v1h-17zM41 76h13v1h-13zM44 77h7v1h-7z"/>
<path fill="#06a4ca" d="M95 39h6v1h-6zM0 40h3v1h-3zM92 40h9v1h-9zM0 41h5v1h-5zM90 41h11v1h-11zM0 42h7v1h-7zM88 42h13v1h-13zM0 43h9v1h-9zM86 43h15v1h-15zM2 44h8v1h-8zM85 44h8v1h-8zM4 45h8v1h-8zM83 45h8v1h-8zM6 46h7v1h-7zM82 46h7v1h-7zM8 47h7v1h-7zM80 47h7v1h-7zM10 48h6v1h-6zM79 48h6v1h-6zM11 49h6v1h-6zM78 49h6v1h-6zM13 50h5v1h-5zM77 50h5v1h-5zM14 51h6v1h-6zM75 51h6v1h-6zM15 52h6v1h-6zM74 52h6v1h-6zM17 53h5v1h-5zM73 53h5v1h-5zM18 54h5v1h-5zM72 54h5v1h-5zM19 55h5v1h-5zM71 55h5v1h-5zM20 56h6v1h-6zM70 56h5v1h-5zM21 57h6v1h-6zM68 57h6v1h-6zM23 58h5v1h-5zM67 58h5v1h-5zM24 59h5v1h-5zM66 59h5v1h-5zM25 60h5v1h-5zM65 60h5v1h-5zM26 61h6v1h-6zM63 61h6v1h-6zM27 62h6v1h-6zM62 62h6v1h-6zM28 63h7v1h-7zM60 63h7v1h-7zM30 64h6v1h-6zM59 64h6v1h-6zM31 65h7v1h-7zM57 65h7v1h-7zM32 66h8v1h-8zM55 66h8v1h-8zM34 67h9v1h-9zM52 67h9v1h-9zM35 68h12v1h-12zM48 68h12v1h-12zM37 69h21v1h-21zM39 70h17v1h-17zM41 71h13v1h-13zM44 72h7v1h-7z"/>
<path fill="#06a7c6" d="M0 35h1v1h-1zM94 35h7v1h-7zM0 36h4v1h-4zM91 36h10v1h-10zM0 37h6v1h-6zM89 37h12v1h-12zM0 38h8v1h-8zM87 38h14v1h-14zM0 39h9v1h-9zM86 39h9v1h-9zM3 40h8v1h-8zM84 40h8v1h-8zM5 41h7v1h-7zM83 41h7v1h-7zM7 42h7v1h-7zM81 42h7v1h-7zM9 43h6v1h-6zM80 43h6v1h-6zM10 44h6v1h-6zM79 44h6v1h-6zM12 45h6v1h-6zM77 45h6v1h-6zM13 46h6v1h-6zM76 46h6v1h-6zM15 47h5v1h-5zM75 47h5v1h-5zM16 48h5v1h-5zM74 48h5v1h-5zM17 49h5v1h-5zM73 49h5v1h-5zM18 50h6v1h-6zM71 50h6v1h-6zM20 51h5v1h-5zM70 51h5v1h-5zM21 52h5v1h-5zM69 52h5v1h-5zM22 53h5v1h-5zM68 53h5v1h-5zM23 54h6v1h-6zM66 54h6v1h-6zM24 55h6v1h-6zM65 55h6v1h-6zM26 56h5v1h-5zM64 56h6v1h-6zM27 57h6v1h-6zM62 57h6v1h-6zM28 58h6v1h-6zM61 58h6v1h-6zM29 59h7v1h-7zM59 59h7v1h-7zM30 60h7v1h-7zM58 60h7v1h-7zM32 61h7v1h-7zM56 61h7v1h-7zM33 62h9v1h-9zM53 62h9v1h-9zM35 63h10v1h-10zM50 63h10v1h-10zM36 64h23v1h-23zM38 65h19v1h-19zM40 66h15v1h-15zM43 67h9v1h-9zM47 68h1v1h-1z"/>
<path fill="#07a9c2" d="M96 30h4v1h-4zM0 31h3v1h-3zM92 31h9v1h-9zM0 32h5v1h-5zM90 32h11v1h-11zM0 33h7v1h-7zM88 33h13v1h-13zM0 34h9v1h-9zM87 34h14v1h-14zM1 35h9v1h-9zM85 35h9v1h-9zM4 36h8v1h-8zM83 36h8v1h-8zM6 37h7v1h-7zM82 37h7v1h-7zM8 38h6v1h-6zM81 38h6v1h-6zM9 39h7v1h-7zM79 39h7v1h-7zM11 40h6v1h-6zM78 40h6v1h-6zM12 41h6v1h-6zM77 41h6v1h-6zM14 42h5v1h-5zM76 42h5v1h-5zM15 43h5v1h-5zM75 43h5v1h-5zM16 44h6v1h-6zM73 44h6v1h-6zM18 45h5v1h-5zM72 45h5v1h-5zM19 46h5v1h-5zM71 46h5v1h-5zM20 47h5v1h-5zM70 47h5v1h-5zM21 48h5v1h-5zM69 48h5v1h-5zM22 49h6v1h-6zM67 49h6v1h-6zM24 50h5v1h-5zM66 50h5v1h-5zM25 51h5v1h-5zM65 51h5v1h-5zM26 52h6v1h-6zM63 52h6v1h-6zM27 53h6v1h-6zM62 53h6v1h-6zM29 54h6v1h-6zM60 54h6v1h-6zM30 55h6v1h-6zM59 55h6v1h-6zM31 56h7v1h-7zM57 56h7v1h-7zM33 57h7v1h-7zM55 57h7v1h-7zM34 58h9v1h-9zM52 58h9v1h-9zM36 59h23v1h-23zM37 60h21v1h-21zM39 61h17v1h-17zM42 62h11v1h-11zM45 63h5v1h-5z"/>
<path fill="#0aacbe" d="M0 26h1v1h-1zM94 26h7v1h-7zM0 27h4v1h-4zM91 27h10v1h-10zM0 28h6v1h-6zM89 28h12v1h-12zM0 29h8v1h-8zM87 29h14v1h-14zM0 30h9v1h-9zM86 30h10v1h-10zM100 30h1v1h-1zM3 31h8v1h-8zM84 31h8v1h-8zM5 32h7v1h-7zM83 32h7v1h-7zM7 33h6v1h-6zM82 33h6v1h-6zM9 34h6v1h-6zM80 34h7v1h-7zM10 35h6v1h-6zM79 35h6v1h-6zM12 36h5v1h-5zM78 36h5v1h-5zM13 37h5v1h-5zM77 37h5v1h-5zM14 38h6v1h-6zM75 38h6v1h-6zM16 39h5v1h-5zM74 39h5v1h-5zM17 40h5v1h-5zM73 40h5v1h-5zM18 41h5v1h-5zM72 41h5v1h-5zM19 42h5v1h-5zM71 42h5v1h-5zM20 43h6v1h-6zM69 43h6v1h-6zM22 44h5v1h-5zM68 44h5v1h-5zM23 45h5v1h-5zM67 45h5v1h-5zM24 46h5v1h-5zM66 46h5v1h-5zM25 47h6v1h-6zM64 47h6v1h-6zM26 48h6v1h-6zM63 48h6v1h-6zM28 49h6v1h-6zM61 49h6v1h-6zM29 50h6v1h-6zM60 50h6v1h-6zM30 51h7v1h-7zM58 51h7v1h-7zM32 52h7v1h-7zM56 52h7v1h-7zM33 53h8v1h-8zM54 53h8v1h-8zM35 54h10v1h-10zM50 54h10v1h-10zM36 55h23v1h-23zM38 56h19v1h-19zM40 57h15v1h-15zM43 58h9v1h-9z"/>
<path fill="#0faeb9" d="M95 21h6v1h-6zM0 22h3v1h-3zM92 22h9v1h-9zM0 23h5v1h-5zM90 23h11v1h-11zM0 24h7v1h-7zM88 24h13v1h-13zM0 25h8v1h-8zM87 25h14v1h-14zM1 26h9v1h-9zM85 26h9v1h-9zM4 27h7v1h-7zM84 27h7v1h-7zM6 28h7v1h-7zM82 28h7v1h-7zM8 29h6v1h-6zM81 29h6v1h-6zM9 30h6v1h-6zM80 30h6v1h-6zM11 31h5v1h-5zM79 31h5v1h-5zM12 32h6v1h-6zM77 32h6v1h-6zM13 33h6v1h-6zM76 33h6v1h-6zM15 34h5v1h-5zM75 34h5v1h-5zM16 35h5v1h-5zM74 35h5v1h-5zM17 36h5v1h-5zM73 36h5v1h-5zM18 37h6v1h-6zM72 37h5v1h-5zM20 38h5v1h-5zM70 38h5v1h-5zM21 39h5v1h-5zM69 39h5v1h-5zM22 40h5v1h-5zM68 40h5v1h-5zM23 41h5v1h-5zM67 41h5v1h-5zM24 42h6v1h-6zM65 42h6v1h-6zM26 43h5v1h-5zM64 43h5v1h-5zM27 44h6v1h-6zM62 44h6v1h-6zM28 45h6v1h-6zM61 45h6v1h-6zM29 46h7v1h-7zM59 46h7v1h-7zM31 47h7v1h-7zM57 47h7v1h-7zM32 48h8v1h-8zM55 48h8v1h-8zM34 49h8v1h-8zM53 49h8v1h-8zM35 50h11v1h-11zM49 50h11v1h-11zM37 51h21v1h-21zM39 52h17v1h-17zM41 53h13v1h-13zM45 54h5v1h-5z"/>
<path fill="#15b1b4" d="M97 16h2v1h-2zM0 17h2v1h-2zM93 17h8v1h-8zM0 18h4v1h-4zM91 18h10v1h-10zM0 19h6v1h-6zM89 19h12v1h-12zM0 20h7v1h-7zM88 20h13v1h-13zM0 21h9v1h-9zM86 21h9v1h-9zM3 22h7v1h-7zM85 22h7v1h-7zM5 23h7v1h-7zM83 23h7v1h-7zM7 24h6v1h-6zM82 24h6v1h-6zM8 25h6v1h-6zM81 25h6v1h-6zM10 26h5v1h-5zM80 26h5v1h-5zM11 27h6v1h-6zM78 27h6v1h-6zM13 28h5v1h-5zM77 28h5v1h-5zM14 29h5v1h-5zM76 29h5v1h-5zM15 30h5v1h-5zM75 30h5v1h-5zM16 31h5v1h-5zM74 31h5v1h-5zM18 32h5v1h-5zM72 32h5v1h-5zM19 33h5v1h-5zM71 33h5v1h-5zM20 34h5v1h-5zM70 34h5v1h-5zM21 35h5v1h-5zM69 35h5v1h-5zM22 36h5v1h-5zM68 36h5v1h-5zM24 37h5v1h-5zM66 37h6v1h-6zM25 38h5v1h-5zM65 38h5v1h-5zM26 39h5v1h-5zM64 39h5v1h-5zM27 40h6v1h-6zM62 40h6v1h-6zM28 41h6v1h-6zM61 41h6v1h-6zM30 42h6v1h-6zM59 42h6v1h-6zM31 43h7v1h-7zM57 43h7v1h-7zM33 44h7v1h-7zM55 44h7v1h-7zM34 45h9v1h-9zM52 45h9v1h-9zM36 46h23v1h-23zM38 47h19v1h-19zM40 48h15v1h-15zM42 49h11v1h-11zM46 50h3v1h-3z"/>
<path fill="#1db3af" d="M0 12h1v1h-1zM94 12h7v1h-7zM0 13h3v1h-3zM92 13h9v1h-9zM0 14h5v1h-5zM90 14h11v1h-11zM0 15h7v1h-7zM88 15h13v1h-13zM0 16h8v1h-8zM87 16h10v1h-10zM99 16h2v1h-2zM2 17h8v1h-8zM85 17h8v1h-8zM4 18h7v1h-7zM84 18h7v1h-7zM6 19h6v1h-6zM83 19h6v1h-6zM7 20h6v1h-6zM82 20h6v1h-6zM9 21h6v1h-6zM80 21h6v1h-6zM10 22h6v1h-6zM79 22h6v1h-6zM12 23h5v1h-5zM78 23h5v1h-5zM13 24h5v1h-5zM77 24h5v1h-5zM14 25h5v1h-5zM76 25h5v1h-5zM15 26h5v1h-5zM75 26h5v1h-5zM17 27h5v1h-5zM73 27h5v1h-5zM18 28h5v1h-5zM72 28h5v1h-5zM19 29h5v1h-5zM71 29h5v1h-5zM20 30h5v1h-5zM70 30h5v1h-5zM21 31h5v1h-5zM69 31h5v1h-5zM23 32h5v1h-5zM67 32h5v1h-5zM24 33h5v1h-5zM66 33h5v1h-5zM25 34h5v1h-5zM65 34h5v1h-5zM26 35h6v1h-6zM63 35h6v1h-6zM27 36h6v1h-6zM62 36h6v1h-6zM29 37h6v1h-6zM60 37h6v1h-6zM30 38h6v1h-6zM59 38h6v1h-6zM31 39h7v1h-7zM57 39h7v1h-7zM33 40h8v1h-8zM54 40h8v1h-8zM34 41h10v1h-10zM51 41h10v1h-10zM36 42h23v1h-23zM38 43h19v1h-19zM40 44h15v1h-15zM43 45h9v1h-9z"/>
<path fill="#25b5a9" d="M95 7h6v1h-6zM0 8h3v1h-3zM92 8h9v1h-9zM0 9h5v1h-5zM90 9h11v1h-11zM0 10h6v1h-6zM89 10h12v1h-12zM0 11h8v1h-8zM87 11h14v1h-14zM1 12h8v1h-8zM86 12h8v1h-8zM3 13h7v1h-7zM85 13h7v1h-7zM5 14h7v1h-7zM83 14h7v1h-7zM7 15h6v1h-6zM82 15h6v1h-6zM8 16h6v1h-6zM81 16h6v1h-6zM10 17h5v1h-5zM80 17h5v1h-5zM11 18h5v1h-5zM79 18h5v1h-5zM12 19h5v1h-5zM78 19h5v1h-5zM13 20h5v1h-5zM77 20h5v1h-5zM15 21h5v1h-5zM75 21h5v1h-5zM16 22h5v1h-5zM74 22h5v1h-5zM17 23h5v1h-5zM73 23h5v1h-5zM18 24h5v1h-5zM72 24h5v1h-5zM19 25h5v1h-5zM71 25h5v1h-5zM20 26h5v1h-5zM70 26h5v1h-5zM22 27h5v1h-5zM68 27h5v1h-5zM23 28h5v1h-5zM67 28h5v1h-5zM24 29h5v1h-5zM66 29h5v1h-5zM25 30h5v1h-5zM65 30h5v1h-5zM26 31h6v1h-6zM63 31h6v1h-6zM28 32h5v1h-5zM62 32h5v1h-5zM29 33h6v1h-6zM60 33h6v1h-6zM30 34h7v1h-7zM58 34h7v1h-7zM32 35h7v1h-7zM56 35h7v1h-7zM33 36h8v1h-8zM54 36h8v1h-8zM35 37h9v1h-9zM51 37h9v1h-9zM36 38h23v1h-23zM38 39h19v1h-19zM41 40h13v1h-13zM44 41h7v1h-7z"/>
<path fill="#2eb7a4" d="M0 2h1v1h-1zM94 2h7v1h-7zM0 3h3v1h-3zM92 3h9v1h-9zM0 4h4v1h-4zM91 4h10v1h-10zM0 5h6v1h-6zM89 5h12v1h-12zM0 6h7v1h-7zM88 6h13v1h-13zM0 7h9v1h-9zM86 7h9v1h-9zM3 8h7v1h-7zM85 8h7v1h-7zM5 9h6v1h-6zM84 9h6v1h-6zM6 10h6v1h-6zM83 10h6v1h-6zM8 11h5v1h-5zM82 11h5v1h-5zM9 12h5v1h-5zM81 12h5v1h-5zM10 13h6v1h-6zM80 13h5v1h-5zM12 14h5v1h-5zM78 14h5v1h-5zM13 15h5v1h-5zM77 15h5v1h-5zM14 16h5v1h-5zM76 16h5v1h-5zM15 17h5v1h-5zM75 17h5v1h-5zM16 18h5v1h-5zM74 18h5v1h-5zM17 19h5v1h-5zM73 19h5v1h-5zM18 20h5v1h-5zM72 20h5v1h-5zM20 21h4v1h-4zM71 21h4v1h-4zM21 22h4v1h-4zM70 22h4v1h-4zM22 23h5v1h-5zM68 23h5v1h-5zM23 24h5v1h-5zM67 24h5v1h-5zM24 25h5v1h-5zM66 25h5v1h-5zM25 26h5v1h-5zM65 26h5v1h-5zM27 27h5v1h-5zM63 27h5v1h-5zM28 28h5v1h-5zM62 28h5v1h-5zM29 29h6v1h-6zM60 29h6v1h-6zM30 30h7v1h-7zM58 30h7v1h-7zM32 31h7v1h-7zM56 31h7v1h-7zM33 32h8v1h-8zM54 32h8v1h-8zM35 33h9v1h-9zM51 33h9v1h-9zM37 34h21v1h-21zM39 35h17v1h-17zM41 36h13v1h-13zM44 37h7v1h-7z"/>
<path fill="#38b99e" d="M0 0h6v1h-6zM89 0h12v1h-12zM0 1h7v1h-7zM88 1h13v1h-13zM1 2h7v1h-7zM87 2h7v1h-7zM3 3h7v1h-7zM86 3h6v1h-6zM4 4h7v1h-7zM84 4h7v1h-7zM6 5h6v1h-6zM83 5h6v1h-6zM7 6h6v1h-6zM82 6h6v1h-6zM9 7h5v1h-5zM81 7h5v1h-5zM10 8h5v1h-5zM80 8h5v1h-5zM11 9h5v1h-5zM79 9h5v1h-5zM12 10h5v1h-5zM78 10h5v1h-5zM13 11h5v1h-5zM77 11h5v1h-5zM14 12h5v1h-5zM76 12h5v1h-5zM16 13h4v1h-4zM75 13h5v1h-5zM17 14h4v1h-4zM74 14h4v1h-4zM18 15h4v1h-4zM73 15h4v1h-4zM19 16h4v1h-4zM72 16h4v1h-4zM20 17h4v1h-4zM71 17h4v1h-4zM21 18h5v1h-5zM69 18h5v1h-5zM22 19h5v1h-5zM68 19h5v1h-5zM23 20h5v1h-5zM67 20h5v1h-5zM24 21h5v1h-5zM66 21h5v1h-5zM25 22h6v1h-6zM65 22h5v1h-5zM27 23h5v1h-5zM63 23h5v1h-5zM28 24h5v1h-5zM62 24h5v1h-5zM29 25h6v1h-6zM60 25h6v1h-6zM30 26h7v1h-7zM58 26h7v1h-7zM32 27h7v1h-7zM56 27h7v1h-7zM33 28h8v1h-8zM54 28h8v1h-8zM35 29h9v1h-9zM51 29h9v1h-9zM37 30h21v1h-21zM39 31h17v1h-17zM41 32h13v1h-13zM44 33h7v1h-7z"/>
<path fill="#42bb98" d="M6 0h5v1h-5zM84 0h5v1h-5zM7 1h5v1h-5zM83 1h5v1h-5zM8 2h5v1h-5zM82 2h5v1h-5zM10 3h4v1h-4zM81 3h5v1h-5zM11 4h4v1h-4zM80 4h4v1h-4zM12 5h4v1h-4zM79 5h4v1h-4zM13 6h4v1h-4zM78 6h4v1h-4zM14 7h4v1h-4zM77 7h4v1h-4zM15 8h4v1h-4zM76 8h4v1h-4zM16 9h4v1h-4zM75 9h4v1h-4zM17 10h4v1h-4zM74 10h4v1h-4zM18 11h4v1h-4zM73 11h4v1h-4zM19 12h4v1h-4zM72 12h4v1h-4zM20 13h5v1h-5zM70 13h5v1h-5zM21 14h5v1h-5zM69 14h5v1h-5zM22 15h5v1h-5zM68 15h5v1h-5zM23 16h5v1h-5zM67 16h5v1h-5zM24 17h5v1h-5zM66 17h5v1h-5zM26 18h4v1h-4zM65 18h4v1h-4zM27 19h5v1h-5zM63 19h5v1h-5zM28 20h5v1h-5zM62 20h5v1h-5zM29 21h6v1h-6zM60 21h6v1h-6zM31 22h5v1h-5zM59 22h6v1h-6zM32 23h6v1h-6zM57 23h6v1h-6zM33 24h8v1h-8zM54 24h8v1h-8zM35 25h9v1h-9zM51 25h9v1h-9zM37 26h21v1h-21zM39 27h17v1h-17zM41 28h13v1h-13zM44 29h7v1h-7z"/>
<path fill="#4dbc92" d="M11 0h5v1h-5zM79 0h5v1h-5zM12 1h5v1h-5zM78 1h5v1h-5zM13 2h5v1h-5zM77 2h5v1h-5zM14 3h5v1h-5zM76 3h5v1h-5zM15 4h5v1h-5zM75 4h5v1h-5zM16 5h5v1h-5zM74 5h5v1h-5zM17 6h5v1h-5zM73 6h5v1h-5zM18 7h5v1h-5zM72 7h5v1h-5zM19 8h5v1h-5zM71 8h5v1h-5zM20 9h5v1h-5zM70 9h5v1h-5zM21 10h5v1h-5zM69 10h5v1h-5zM22 11h5v1h-5zM68 11h5v1h-5zM23 12h5v1h-5zM67 12h5v1h-5zM25 13h4v1h-4zM66 13h4v1h-4zM26 14h4v1h-4zM65 14h4v1h-4zM27 15h5v1h-5zM63 15h5v1h-5zM28 16h5v1h-5zM62 16h5v1h-5zM29 17h6v1h-6zM60 17h6v1h-6zM30 18h6v1h-6zM59 18h6v1h-6zM32 19h6v1h-6zM57 19h6v1h-6zM33 20h7v1h-7zM55 20h7v1h-7zM35 21h8v1h-8zM52 21h8v1h-8zM36 22h23v1h-23zM38 23h19v1h-19zM41 24h13v1h-13zM44 25h7v1h-7z"/>
<path fill="#59bd8c" d="M16 0h4v1h-4zM75 0h4v1h-4zM17 1h4v1h-4zM74 1h4v1h-4zM18 2h4v1h-4zM73 2h4v1h-4zM19 3h4v1h-4zM72 3h4v1h-4zM20 4h4v1h-4zM71 4h4v1h-4zM21 5h4v1h-4zM70 5h4v1h-4zM22 6h4v1h-4zM69 6h4v1h-4zM23 7h4v1h-4zM68 7h4v1h-4zM24 8h4v1h-4zM67 8h4v1h-4zM25 9h4v1h-4zM66 9h4v1h-4zM26 10h4v1h-4zM65 10h4v1h-4zM27 11h5v1h-5zM63 11h5v1h-5zM28 12h5v1h-5zM62 12h5v1h-5zM29 13h5v1h-5zM61 13h5v1h-5zM30 14h6v1h-6zM59 14h6v1h-6zM32 15h6v1h-6zM57 15h6v1h-6zM33 16h7v1h-7zM55 16h7v1h-7zM35 17h7v1h-7zM53 17h7v1h-7zM36 18h11v1h-11zM48 18h11v1h-11zM38 19h19v1h-19zM40 20h15v1h-15zM43 21h9v1h-9z"/>
<path fill="#65be86" d="M20 0h4v1h-4zM71 0h4v1h-4zM21 1h4v1h-4zM70 1h4v1h-4zM22 2h4v1h-4zM69 2h4v1h-4zM23 3h4v1h-4zM68 3h4v1h-4zM24 4h4v1h-4zM67 4h4v1h-4zM25 5h4v1h-4zM66 5h4v1h-4zM26 6h4v1h-4zM65 6h4v1h-4zM27 7h4v1h-4zM64 7h4v1h-4zM28 8h5v1h-5zM62 8h5v1h-5zM29 9h5v1h-5zM61 9h5v1h-5zM30 10h6v1h-6zM59 10h6v1h-6zM32 11h5v1h-5zM58 11h5v1h-5zM33 12h6v1h-6zM56 12h6v1h-6zM34 13h8v1h-8zM53 13h8v1h-8zM36 14h9v1h-9zM50 14h9v1h-9zM38 15h19v1h-19zM40 16h15v1h-15zM42 17h11v1h-11zM47 18h1v1h-1z"/>
<path fill="#71bf80" d="M24 0h4v1h-4zM67 0h4v1h-4zM25 1h4v1h-4zM66 1h4v1h-4zM26 2h4v1h-4zM65 2h4v1h-4zM27 3h4v1h-4zM64 3h4v1h-4zM28 4h4v1h-4zM63 4h4v1h-4zM29 5h5v1h-5zM61 5h5v1h-5zM30 6h5v1h-5zM60 6h5v1h-5zM31 7h6v1h-6zM58 7h6v1h-6zM33 8h6v1h-6zM56 8h6v1h-6zM34 9h7v1h-7zM54 9h7v1h-7zM36 10h8v1h-8zM51 10h8v1h-8zM37 11h21v1h-21zM39 12h17v1h-17zM42 13h11v1h-11zM45 14h5v1h-5z"/>
<path fill="#7cbf7b" d="M28 0h4v1h-4zM63 0h4v1h-4zM29 1h5v1h-5zM62 1h4v1h-4zM30 2h5v1h-5zM60 2h5v1h-5zM31 3h5v1h-5zM59 3h5v1h-5zM32 4h6v1h-6zM57 4h6v1h-6zM34 5h6v1h-6zM55 5h6v1h-6zM35 6h8v1h-8zM52 6h8v1h-8zM37 7h10v1h-10zM48 7h10v1h-10zM39 8h17v1h-17zM41 9h13v1h-13zM44 10h7v1h-7z"/>
<path fill="#87bf77" d="M32 0h6v1h-6zM58 0h5v1h-5zM34 1h5v1h-5zM56 1h6v1h-6zM35 2h7v1h-7zM53 2h7v1h-7zM36 3h9v1h-9zM50 3h9v1h-9zM38 4h19v1h-19zM40 5h15v1h-15zM43 6h9v1h-9zM47 7h1v1h-1z"/>
<path fill="#92bf73" d="M38 0h20v1h-20zM39 1h17v1h-17zM42 2h11v1h-11zM45 3h5v1h-5z"/>
</g>
<rect x="293.05" y="562.20" width="1711.90" height="4.50" fill="#262626"/>
<rect x="293.05" y="917.10" width="1711.90" height="5.80" fill="#262626"/>
<rect x="293.05" y="562.20" width="4.75" height="360.70" fill="#262626"/>
<rect x="1999.30" y="562.20" width="5.65" height="360.70" fill="#262626"/>
<path d="M295.50 917.60h19.40M2002.10 917.60h-19.40M295.50 847.30h19.40M2002.10 847.30h-19.40M295.50 777.00h19.40M2002.10 777.00h-19.40M295.50 706.70h19.40M2002.10 706.70h-19.40M295.50 636.40h19.40M2002.10 636.40h-19.40M295.50 566.10h19.40M2002.10 566.10h-19.40M763.00 919.36v-19.40M763.00 564.34v19.40M1230.60 919.36v-19.40M1230.60 564.34v19.40M1698.20 919.36v-19.40M1698.20 564.34v19.40" stroke="#262626" stroke-width="5.20" fill="none"/>
<text x="244.60" y="663.00" font-size="81.50" text-anchor="end">100</text>
<text x="250.80" y="804.40" font-size="81.50" text-anchor="end">60</text>
<text x="251.50" y="944.90" font-size="81.50" text-anchor="end">20</text>
<text transform="translate(232.00 1023.70) scale(0.9680 1)" font-size="83.00" text-anchor="start">Jan</text>
<text transform="translate(693.50 1023.70) scale(0.9680 1)" font-size="83.00" text-anchor="start">Apr</text>
<text transform="translate(1182.60 1023.70) scale(0.9680 1)" font-size="83.00" text-anchor="start">Jul</text>
<text transform="translate(1627.00 1023.70) scale(0.9680 1)" font-size="83.00" text-anchor="start">Oct</text>
<g transform="translate(295.50 1097.74) scale(16.89703 3.51500)" shape-rendering="crispEdges">
<path fill="#06a7c6" d="M95 97h6v1h-6zM0 98h4v1h-4zM91 98h10v1h-10zM0 99h6v1h-6zM89 99h12v1h-12zM0 100h8v1h-8zM87 100h14v1h-14z"/>
<path fill="#07a9c2" d="M96 93h4v1h-4zM0 94h3v1h-3zM92 94h9v1h-9zM0 95h6v1h-6zM89 95h12v1h-12zM0 96h8v1h-8zM87 96h14v1h-14zM0 97h10v1h-10zM85 97h10v1h-10zM4 98h8v1h-8zM83 98h8v1h-8zM6 99h7v1h-7zM82 99h7v1h-7zM8 100h7v1h-7zM80 100h7v1h-7z"/>
<path fill="#0aacbe" d="M0 90h1v1h-1zM94 90h7v1h-7zM0 91h4v1h-4zM91 91h10v1h-10zM0 92h7v1h-7zM88 92h13v1h-13zM0 93h9v1h-9zM86 93h10v1h-10zM100 93h1v1h-1zM3 94h8v1h-8zM84 94h8v1h-8zM6 95h7v1h-7zM83 95h6v1h-6zM8 96h6v1h-6zM81 96h6v1h-6zM10 97h6v1h-6zM79 97h6v1h-6zM12 98h5v1h-5zM78 98h5v1h-5zM13 99h6v1h-6zM76 99h6v1h-6zM15 100h6v1h-6zM74 100h6v1h-6z"/>
<path fill="#0faeb9" d="M96 86h4v1h-4zM0 87h3v1h-3zM92 87h9v1h-9zM0 88h6v1h-6zM89 88h12v1h-12zM0 89h8v1h-8zM87 89h14v1h-14zM1 90h9v1h-9zM85 90h9v1h-9zM4 91h8v1h-8zM84 91h7v1h-7zM7 92h6v1h-6zM82 92h6v1h-6zM9 93h6v1h-6zM80 93h6v1h-6zM11 94h5v1h-5zM79 94h5v1h-5zM13 95h5v1h-5zM77 95h6v1h-6zM14 96h6v1h-6zM75 96h6v1h-6zM16 97h5v1h-5zM74 97h5v1h-5zM17 98h6v1h-6zM72 98h6v1h-6zM19 99h5v1h-5zM71 99h5v1h-5zM21 100h5v1h-5zM69 100h5v1h-5z"/>
<path fill="#15b1b4" d="M95 83h6v1h-6zM0 84h4v1h-4zM91 84h10v1h-10zM0 85h6v1h-6zM89 85h12v1h-12zM0 86h8v1h-8zM87 86h9v1h-9zM100 86h1v1h-1zM3 87h7v1h-7zM85 87h7v1h-7zM6 88h6v1h-6zM83 88h6v1h-6zM8 89h6v1h-6zM81 89h6v1h-6zM10 90h5v1h-5zM80 90h5v1h-5zM12 91h5v1h-5zM78 91h6v1h-6zM13 92h5v1h-5zM77 92h5v1h-5zM15 93h5v1h-5zM75 93h5v1h-5zM16 94h5v1h-5zM74 94h5v1h-5zM18 95h5v1h-5zM72 95h5v1h-5zM20 96h5v1h-5zM70 96h5v1h-5zM21 97h5v1h-5zM69 97h5v1h-5zM23 98h5v1h-5zM67 98h5v1h-5zM24 99h6v1h-6zM65 99h6v1h-6zM26 100h6v1h-6zM63 100h6v1h-6z"/>
<path fill="#1db3af" d="M0 80h1v1h-1zM94 80h7v1h-7zM0 81h5v1h-5zM91 81h10v1h-10zM0 82h7v1h-7zM88 82h13v1h-13zM0 83h9v1h-9zM86 83h9v1h-9zM4 84h7v1h-7zM84 84h7v1h-7zM6 85h7v1h-7zM83 85h6v1h-6zM8 86h6v1h-6zM81 86h6v1h-6zM10 87h6v1h-6zM79 87h6v1h-6zM12 88h5v1h-5zM78 88h5v1h-5zM14 89h5v1h-5zM76 89h5v1h-5zM15 90h5v1h-5zM75 90h5v1h-5zM17 91h5v1h-5zM73 91h5v1h-5zM18 92h5v1h-5zM72 92h5v1h-5zM20 93h5v1h-5zM70 93h5v1h-5zM21 94h5v1h-5zM69 94h5v1h-5zM23 95h5v1h-5zM67 95h5v1h-5zM25 96h5v1h-5zM65 96h5v1h-5zM26 97h6v1h-6zM63 97h6v1h-6zM28 98h6v1h-6zM61 98h6v1h-6zM30 99h7v1h-7zM59 99h6v1h-6zM32 100h8v1h-8zM55 100h8v1h-8z"/>
<path fill="#25b5a9" d="M0 77h2v1h-2zM93 77h8v1h-8zM0 78h5v1h-5zM90 78h11v1h-11zM0 79h7v1h-7zM88 79h13v1h-13zM1 80h8v1h-8zM86 80h8v1h-8zM5 81h6v1h-6zM84 81h7v1h-7zM7 82h6v1h-6zM82 82h6v1h-6zM9 83h5v1h-5zM81 83h5v1h-5zM11 84h5v1h-5zM79 84h5v1h-5zM13 85h4v1h-4zM78 85h5v1h-5zM14 86h5v1h-5zM76 86h5v1h-5zM16 87h4v1h-4zM75 87h4v1h-4zM17 88h5v1h-5zM73 88h5v1h-5zM19 89h4v1h-4zM72 89h4v1h-4zM20 90h5v1h-5zM70 90h5v1h-5zM22 91h5v1h-5zM68 91h5v1h-5zM23 92h5v1h-5zM67 92h5v1h-5zM25 93h5v1h-5zM65 93h5v1h-5zM26 94h6v1h-6zM63 94h6v1h-6zM28 95h6v1h-6zM61 95h6v1h-6zM30 96h6v1h-6zM59 96h6v1h-6zM32 97h7v1h-7zM56 97h7v1h-7zM34 98h9v1h-9zM52 98h9v1h-9zM37 99h22v1h-22zM40 100h15v1h-15z"/>
<path fill="#2eb7a4" d="M97 73h2v1h-2zM0 74h2v1h-2zM93 74h8v1h-8zM0 75h5v1h-5zM90 75h11v1h-11zM0 76h8v1h-8zM87 76h14v1h-14zM2 77h8v1h-8zM85 77h8v1h-8zM5 78h6v1h-6zM84 78h6v1h-6zM7 79h6v1h-6zM82 79h6v1h-6zM9 80h6v1h-6zM80 80h6v1h-6zM11 81h5v1h-5zM79 81h5v1h-5zM13 82h5v1h-5zM77 82h5v1h-5zM14 83h5v1h-5zM76 83h5v1h-5zM16 84h5v1h-5zM74 84h5v1h-5zM17 85h5v1h-5zM73 85h5v1h-5zM19 86h5v1h-5zM71 86h5v1h-5zM20 87h5v1h-5zM70 87h5v1h-5zM22 88h5v1h-5zM68 88h5v1h-5zM23 89h5v1h-5zM67 89h5v1h-5zM25 90h5v1h-5zM65 90h5v1h-5zM27 91h5v1h-5zM63 91h5v1h-5zM28 92h6v1h-6zM61 92h6v1h-6zM30 93h6v1h-6zM59 93h6v1h-6zM32 94h7v1h-7zM56 94h7v1h-7zM34 95h8v1h-8zM53 95h8v1h-8zM36 96h23v1h-23zM39 97h17v1h-17zM43 98h9v1h-9z"/>
<path fill="#38b99e" d="M97 70h2v1h-2zM0 71h3v1h-3zM92 71h9v1h-9zM0 72h5v1h-5zM90 72h11v1h-11zM0 73h8v1h-8zM87 73h10v1h-10zM99 73h2v1h-2zM2 74h8v1h-8zM85 74h8v1h-8zM5 75h7v1h-7zM84 75h6v1h-6zM8 76h5v1h-5zM82 76h5v1h-5zM10 77h5v1h-5zM80 77h5v1h-5zM11 78h5v1h-5zM79 78h5v1h-5zM13 79h5v1h-5zM77 79h5v1h-5zM15 80h4v1h-4zM76 80h4v1h-4zM16 81h5v1h-5zM74 81h5v1h-5zM18 82h4v1h-4zM73 82h4v1h-4zM19 83h5v1h-5zM71 83h5v1h-5zM21 84h4v1h-4zM70 84h4v1h-4zM22 85h5v1h-5zM68 85h5v1h-5zM24 86h4v1h-4zM67 86h4v1h-4zM25 87h5v1h-5zM65 87h5v1h-5zM27 88h5v1h-5zM63 88h5v1h-5zM28 89h6v1h-6zM61 89h6v1h-6zM30 90h6v1h-6zM59 90h6v1h-6zM32 91h6v1h-6zM57 91h6v1h-6zM34 92h7v1h-7zM54 92h7v1h-7zM36 93h11v1h-11zM48 93h11v1h-11zM39 94h17v1h-17zM42 95h11v1h-11z"/>
<path fill="#42bb98" d="M97 67h2v1h-2zM0 68h3v1h-3zM92 68h9v1h-9zM0 69h6v1h-6zM89 69h12v1h-12zM0 70h8v1h-8zM87 70h10v1h-10zM99 70h2v1h-2zM3 71h7v1h-7zM85 71h7v1h-7zM5 72h7v1h-7zM83 72h7v1h-7zM8 73h5v1h-5zM82 73h5v1h-5zM10 74h5v1h-5zM80 74h5v1h-5zM12 75h4v1h-4zM79 75h5v1h-5zM13 76h5v1h-5zM77 76h5v1h-5zM15 77h4v1h-4zM76 77h4v1h-4zM16 78h5v1h-5zM74 78h5v1h-5zM18 79h4v1h-4zM73 79h4v1h-4zM19 80h5v1h-5zM71 80h5v1h-5zM21 81h4v1h-4zM70 81h4v1h-4zM22 82h5v1h-5zM68 82h5v1h-5zM24 83h4v1h-4zM67 83h4v1h-4zM25 84h5v1h-5zM65 84h5v1h-5zM27 85h5v1h-5zM63 85h5v1h-5zM28 86h5v1h-5zM62 86h5v1h-5zM30 87h5v1h-5zM60 87h5v1h-5zM32 88h6v1h-6zM57 88h6v1h-6zM34 89h7v1h-7zM54 89h7v1h-7zM36 90h9v1h-9zM50 90h9v1h-9zM38 91h19v1h-19zM41 92h13v1h-13zM47 93h1v1h-1z"/>
<path fill="#4dbc92" d="M97 64h2v1h-2zM0 65h3v1h-3zM92 65h9v1h-9zM0 66h6v1h-6zM89 66h12v1h-12zM0 67h8v1h-8zM87 67h10v1h-10zM99 67h2v1h-2zM3 68h7v1h-7zM85 68h7v1h-7zM6 69h6v1h-6zM83 69h6v1h-6zM8 70h5v1h-5zM82 70h5v1h-5zM10 71h5v1h-5zM80 71h5v1h-5zM12 72h4v1h-4zM79 72h4v1h-4zM13 73h5v1h-5zM77 73h5v1h-5zM15 74h4v1h-4zM76 74h4v1h-4zM16 75h5v1h-5zM74 75h5v1h-5zM18 76h4v1h-4zM73 76h4v1h-4zM19 77h5v1h-5zM71 77h5v1h-5zM21 78h4v1h-4zM70 78h4v1h-4zM22 79h5v1h-5zM68 79h5v1h-5zM24 80h4v1h-4zM67 80h4v1h-4zM25 81h5v1h-5zM65 81h5v1h-5zM27 82h4v1h-4zM64 82h4v1h-4zM28 83h5v1h-5zM62 83h5v1h-5zM30 84h5v1h-5zM60 84h5v1h-5zM32 85h6v1h-6zM57 85h6v1h-6zM33 86h7v1h-7zM55 86h7v1h-7zM35 87h9v1h-9zM51 87h9v1h-9zM38 88h19v1h-19zM41 89h13v1h-13zM45 90h5v1h-5z"/>
<path fill="#59bd8c" d="M97 61h2v1h-2zM0 62h3v1h-3zM92 62h9v1h-9zM0 63h6v1h-6zM89 63h12v1h-12zM0 64h8v1h-8zM87 64h10v1h-10zM99 64h2v1h-2zM3 65h7v1h-7zM85 65h7v1h-7zM6 66h6v1h-6zM83 66h6v1h-6zM8 67h5v1h-5zM82 67h5v1h-5zM10 68h5v1h-5zM80 68h5v1h-5zM12 69h4v1h-4zM79 69h4v1h-4zM13 70h5v1h-5zM77 70h5v1h-5zM15 71h4v1h-4zM76 71h4v1h-4zM16 72h5v1h-5zM74 72h5v1h-5zM18 73h4v1h-4zM73 73h4v1h-4zM19 74h5v1h-5zM71 74h5v1h-5zM21 75h4v1h-4zM70 75h4v1h-4zM22 76h5v1h-5zM68 76h5v1h-5zM24 77h4v1h-4zM67 77h4v1h-4zM25 78h5v1h-5zM65 78h5v1h-5zM27 79h4v1h-4zM64 79h4v1h-4zM28 80h5v1h-5zM62 80h5v1h-5zM30 81h5v1h-5zM60 81h5v1h-5zM31 82h6v1h-6zM58 82h6v1h-6zM33 83h7v1h-7zM55 83h7v1h-7zM35 84h9v1h-9zM51 84h9v1h-9zM38 85h19v1h-19zM40 86h15v1h-15zM44 87h7v1h-7z"/>
<path fill="#65be86" d="M97 58h2v1h-2zM0 59h3v1h-3zM92 59h9v1h-9zM0 60h5v1h-5zM90 60h11v1h-11zM0 61h8v1h-8zM87 61h10v1h-10zM99 61h2v1h-2zM3 62h7v1h-7zM85 62h7v1h-7zM6 63h6v1h-6zM83 63h6v1h-6zM8 64h5v1h-5zM82 64h5v1h-5zM10 65h5v1h-5zM80 65h5v1h-5zM12 66h4v1h-4zM79 66h4v1h-4zM13 67h5v1h-5zM77 67h5v1h-5zM15 68h4v1h-4zM76 68h4v1h-4zM16 69h5v1h-5zM74 69h5v1h-5zM18 70h4v1h-4zM73 70h4v1h-4zM19 71h5v1h-5zM71 71h5v1h-5zM21 72h4v1h-4zM70 72h4v1h-4zM22 73h5v1h-5zM68 73h5v1h-5zM24 74h4v1h-4zM67 74h4v1h-4zM25 75h5v1h-5zM65 75h5v1h-5zM27 76h4v1h-4zM64 76h4v1h-4zM28 77h5v1h-5zM62 77h5v1h-5zM30 78h5v1h-5zM60 78h5v1h-5zM31 79h6v1h-6zM58 79h6v1h-6zM33 80h7v1h-7zM55 80h7v1h-7zM35 81h8v1h-8zM52 81h8v1h-8zM37 82h21v1h-21zM40 83h15v1h-15zM44 84h7v1h-7z"/>
<path fill="#71bf80" d="M97 55h2v1h-2zM0 56h2v1h-2zM93 56h8v1h-8zM0 57h5v1h-5zM90 57h11v1h-11zM0 58h8v1h-8zM87 58h10v1h-10zM99 58h2v1h-2zM3 59h7v1h-7zM85 59h7v1h-7zM5 60h7v1h-7zM83 60h7v1h-7zM8 61h5v1h-5zM82 61h5v1h-5zM10 62h5v1h-5zM80 62h5v1h-5zM12 63h4v1h-4zM79 63h4v1h-4zM13 64h5v1h-5zM77 64h5v1h-5zM15 65h4v1h-4zM76 65h4v1h-4zM16 66h5v1h-5zM74 66h5v1h-5zM18 67h4v1h-4zM73 67h4v1h-4zM19 68h5v1h-5zM71 68h5v1h-5zM21 69h4v1h-4zM70 69h4v1h-4zM22 70h5v1h-5zM69 70h4v1h-4zM24 71h4v1h-4zM67 71h4v1h-4zM25 72h5v1h-5zM65 72h5v1h-5zM27 73h4v1h-4zM64 73h4v1h-4zM28 74h5v1h-5zM62 74h5v1h-5zM30 75h5v1h-5zM60 75h5v1h-5zM31 76h6v1h-6zM58 76h6v1h-6zM33 77h6v1h-6zM56 77h6v1h-6zM35 78h7v1h-7zM53 78h7v1h-7zM37 79h21v1h-21zM40 80h15v1h-15zM43 81h9v1h-9z"/>
<path fill="#7cbf7b" d="M0 53h2v1h-2zM93 53h8v1h-8zM0 54h5v1h-5zM90 54h11v1h-11zM0 55h8v1h-8zM87 55h10v1h-10zM99 55h2v1h-2zM2 56h8v1h-8zM85 56h8v1h-8zM5 57h6v1h-6zM84 57h6v1h-6zM8 58h5v1h-5zM82 58h5v1h-5zM10 59h5v1h-5zM80 59h5v1h-5zM12 60h4v1h-4zM79 60h4v1h-4zM13 61h5v1h-5zM77 61h5v1h-5zM15 62h4v1h-4zM76 62h4v1h-4zM16 63h5v1h-5zM74 63h5v1h-5zM18 64h4v1h-4zM73 64h4v1h-4zM19 65h5v1h-5zM71 65h5v1h-5zM21 66h4v1h-4zM70 66h4v1h-4zM22 67h4v1h-4zM69 67h4v1h-4zM24 68h4v1h-4zM67 68h4v1h-4zM25 69h4v1h-4zM66 69h4v1h-4zM27 70h4v1h-4zM64 70h5v1h-5zM28 71h5v1h-5zM62 71h5v1h-5zM30 72h5v1h-5zM60 72h5v1h-5zM31 73h6v1h-6zM58 73h6v1h-6zM33 74h6v1h-6zM56 74h6v1h-6zM35 75h7v1h-7zM53 75h7v1h-7zM37 76h10v1h-10zM48 76h10v1h-10zM39 77h17v1h-17zM42 78h11v1h-11z"/>
<path fill="#87bf77" d="M0 50h2v1h-2zM93 50h8v1h-8zM0 51h5v1h-5zM90 51h11v1h-11zM0 52h8v1h-8zM87 52h14v1h-14zM2 53h8v1h-8zM85 53h8v1h-8zM5 54h6v1h-6zM84 54h6v1h-6zM8 55h5v1h-5zM82 55h5v1h-5zM10 56h5v1h-5zM80 56h5v1h-5zM11 57h5v1h-5zM79 57h5v1h-5zM13 58h5v1h-5zM77 58h5v1h-5zM15 59h4v1h-4zM76 59h4v1h-4zM16 60h5v1h-5zM74 60h5v1h-5zM18 61h4v1h-4zM73 61h4v1h-4zM19 62h5v1h-5zM72 62h4v1h-4zM21 63h4v1h-4zM70 63h4v1h-4zM22 64h4v1h-4zM69 64h4v1h-4zM24 65h4v1h-4zM67 65h4v1h-4zM25 66h4v1h-4zM66 66h4v1h-4zM26 67h5v1h-5zM64 67h5v1h-5zM28 68h5v1h-5zM62 68h5v1h-5zM29 69h6v1h-6zM60 69h6v1h-6zM31 70h6v1h-6zM58 70h6v1h-6zM33 71h6v1h-6zM56 71h6v1h-6zM35 72h7v1h-7zM53 72h7v1h-7zM37 73h9v1h-9zM49 73h9v1h-9zM39 74h17v1h-17zM42 75h11v1h-11zM47 76h1v1h-1z"/>
<path fill="#92bf73" d="M0 47h2v1h-2zM93 47h8v1h-8zM0 48h5v1h-5zM90 48h11v1h-11zM0 49h7v1h-7zM88 49h13v1h-13zM2 50h8v1h-8zM86 50h7v1h-7zM5 51h6v1h-6zM84 51h6v1h-6zM8 52h5v1h-5zM82 52h5v1h-5zM10 53h5v1h-5zM80 53h5v1h-5zM11 54h5v1h-5zM79 54h5v1h-5zM13 55h5v1h-5zM77 55h5v1h-5zM15 56h4v1h-4zM76 56h4v1h-4zM16 57h5v1h-5zM74 57h5v1h-5zM18 58h4v1h-4zM73 58h4v1h-4zM19 59h4v1h-4zM72 59h4v1h-4zM21 60h4v1h-4zM70 60h4v1h-4zM22 61h4v1h-4zM69 61h4v1h-4zM24 62h4v1h-4zM67 62h5v1h-5zM25 63h4v1h-4zM66 63h4v1h-4zM26 64h5v1h-5zM64 64h5v1h-5zM28 65h5v1h-5zM62 65h5v1h-5zM29 66h5v1h-5zM61 66h5v1h-5zM31 67h5v1h-5zM59 67h5v1h-5zM33 68h6v1h-6zM56 68h6v1h-6zM35 69h6v1h-6zM54 69h6v1h-6zM37 70h9v1h-9zM49 70h9v1h-9zM39 71h17v1h-17zM42 72h11v1h-11zM46 73h3v1h-3z"/>
<path fill="#9cbf6f" d="M0 44h2v1h-2zM93 44h8v1h-8zM0 45h5v1h-5zM90 45h11v1h-11zM0 46h7v1h-7zM88 46h13v1h-13zM2 47h7v1h-7zM86 47h7v1h-7zM5 48h6v1h-6zM84 48h6v1h-6zM7 49h6v1h-6zM82 49h6v1h-6zM10 50h5v1h-5zM80 50h6v1h-6zM11 51h5v1h-5zM79 51h5v1h-5zM13 52h5v1h-5zM77 52h5v1h-5zM15 53h4v1h-4zM76 53h4v1h-4zM16 54h5v1h-5zM74 54h5v1h-5zM18 55h4v1h-4zM73 55h4v1h-4zM19 56h4v1h-4zM72 56h4v1h-4zM21 57h4v1h-4zM70 57h4v1h-4zM22 58h4v1h-4zM69 58h4v1h-4zM23 59h5v1h-5zM67 59h5v1h-5zM25 60h4v1h-4zM66 60h4v1h-4zM26 61h5v1h-5zM64 61h5v1h-5zM28 62h5v1h-5zM62 62h5v1h-5zM29 63h5v1h-5zM61 63h5v1h-5zM31 64h5v1h-5zM59 64h5v1h-5zM33 65h6v1h-6zM56 65h6v1h-6zM34 66h7v1h-7zM54 66h7v1h-7zM36 67h9v1h-9zM50 67h9v1h-9zM39 68h17v1h-17zM41 69h13v1h-13zM46 70h3v1h-3z"/>
<path fill="#a5be6b" d="M0 41h2v1h-2zM93 41h8v1h-8zM0 42h5v1h-5zM90 42h11v1h-11zM0 43h7v1h-7zM88 43h13v1h-13zM2 44h7v1h-7zM86 44h7v1h-7zM5 45h6v1h-6zM84 45h6v1h-6zM7 46h6v1h-6zM82 46h6v1h-6zM9 47h6v1h-6zM80 47h6v1h-6zM11 48h5v1h-5zM79 48h5v1h-5zM13 49h5v1h-5zM77 49h5v1h-5zM15 50h4v1h-4zM76 50h4v1h-4zM16 51h5v1h-5zM74 51h5v1h-5zM18 52h4v1h-4zM73 52h4v1h-4zM19 53h4v1h-4zM72 53h4v1h-4zM21 54h4v1h-4zM70 54h4v1h-4zM22 55h4v1h-4zM69 55h4v1h-4zM23 56h5v1h-5zM67 56h5v1h-5zM25 57h4v1h-4zM66 57h4v1h-4zM26 58h5v1h-5zM64 58h5v1h-5zM28 59h5v1h-5zM63 59h4v1h-4zM29 60h5v1h-5zM61 60h5v1h-5zM31 61h5v1h-5zM59 61h5v1h-5zM33 62h5v1h-5zM57 62h5v1h-5zM34 63h7v1h-7zM54 63h7v1h-7zM36 64h9v1h-9zM50 64h9v1h-9zM39 65h17v1h-17zM41 66h13v1h-13zM45 67h5v1h-5z"/>
<path fill="#aebe67" d="M0 38h2v1h-2zM93 38h8v1h-8zM0 39h5v1h-5zM90 39h11v1h-11zM0 40h7v1h-7zM88 40h13v1h-13zM2 41h7v1h-7zM86 41h7v1h-7zM5 42h6v1h-6zM84 42h6v1h-6zM7 43h6v1h-6zM82 43h6v1h-6zM9 44h6v1h-6zM80 44h6v1h-6zM11 45h5v1h-5zM79 45h5v1h-5zM13 46h5v1h-5zM77 46h5v1h-5zM15 47h4v1h-4zM76 47h4v1h-4zM16 48h5v1h-5zM74 48h5v1h-5zM18 49h4v1h-4zM73 49h4v1h-4zM19 50h4v1h-4zM72 50h4v1h-4zM21 51h4v1h-4zM70 51h4v1h-4zM22 52h4v1h-4zM69 52h4v1h-4zM23 53h5v1h-5zM67 53h5v1h-5zM25 54h4v1h-4zM66 54h4v1h-4zM26 55h5v1h-5zM64 55h5v1h-5zM28 56h4v1h-4zM63 56h4v1h-4zM29 57h5v1h-5zM61 57h5v1h-5zM31 58h5v1h-5zM59 58h5v1h-5zM33 59h5v1h-5zM57 59h6v1h-6zM34 60h7v1h-7zM54 60h7v1h-7zM36 61h9v1h-9zM50 61h9v1h-9zM38 62h19v1h-19zM41 63h13v1h-13zM45 64h5v1h-5z"/>
<path fill="#b7bd64" d="M97 34h2v1h-2zM0 35h3v1h-3zM93 35h8v1h-8zM0 36h5v1h-5zM90 36h11v1h-11zM0 37h8v1h-8zM87 37h14v1h-14zM2 38h8v1h-8zM85 38h8v1h-8zM5 39h6v1h-6zM84 39h6v1h-6zM7 40h6v1h-6zM82 40h6v1h-6zM9 41h6v1h-6zM80 41h6v1h-6zM11 42h5v1h-5zM79 42h5v1h-5zM13 43h5v1h-5zM77 43h5v1h-5zM15 44h4v1h-4zM76 44h4v1h-4zM16 45h5v1h-5zM74 45h5v1h-5zM18 46h4v1h-4zM73 46h4v1h-4zM19 47h4v1h-4zM72 47h4v1h-4zM21 48h4v1h-4zM70 48h4v1h-4zM22 49h4v1h-4zM69 49h4v1h-4zM23 50h5v1h-5zM67 50h5v1h-5zM25 51h4v1h-4zM66 51h4v1h-4zM26 52h5v1h-5zM64 52h5v1h-5zM28 53h4v1h-4zM63 53h4v1h-4zM29 54h5v1h-5zM61 54h5v1h-5zM31 55h5v1h-5zM59 55h5v1h-5zM32 56h6v1h-6zM57 56h6v1h-6zM34 57h7v1h-7zM54 57h7v1h-7zM36 58h9v1h-9zM50 58h9v1h-9zM38 59h19v1h-19zM41 60h13v1h-13zM45 61h5v1h-5z"/>
<path fill="#c0bc60" d="M96 31h4v1h-4zM0 32h3v1h-3zM92 32h9v1h-9zM0 33h6v1h-6zM89 33h12v1h-12zM0 34h8v1h-8zM87 34h10v1h-10zM99 34h2v1h-2zM3 35h7v1h-7zM85 35h8v1h-8zM5 36h7v1h-7zM83 36h7v1h-7zM8 37h5v1h-5zM82 37h5v1h-5zM10 38h5v1h-5zM80 38h5v1h-5zM11 39h5v1h-5zM79 39h5v1h-5zM13 40h5v1h-5zM77 40h5v1h-5zM15 41h4v1h-4zM76 41h4v1h-4zM16 42h5v1h-5zM74 42h5v1h-5zM18 43h4v1h-4zM73 43h4v1h-4zM19 44h4v1h-4zM72 44h4v1h-4zM21 45h4v1h-4zM70 45h4v1h-4zM22 46h4v1h-4zM69 46h4v1h-4zM23 47h5v1h-5zM67 47h5v1h-5zM25 48h4v1h-4zM66 48h4v1h-4zM26 49h5v1h-5zM64 49h5v1h-5zM28 50h4v1h-4zM63 50h4v1h-4zM29 51h5v1h-5zM61 51h5v1h-5zM31 52h5v1h-5zM59 52h5v1h-5zM32 53h6v1h-6zM57 53h6v1h-6zM34 54h7v1h-7zM54 54h7v1h-7zM36 55h9v1h-9zM50 55h9v1h-9zM38 56h19v1h-19zM41 57h13v1h-13zM45 58h5v1h-5z"/>
<path fill="#c8bc5d" d="M95 28h6v1h-6zM0 29h3v1h-3zM92 29h9v1h-9zM0 30h6v1h-6zM89 30h12v1h-12zM0 31h8v1h-8zM87 31h9v1h-9zM100 31h1v1h-1zM3 32h7v1h-7zM85 32h7v1h-7zM6 33h6v1h-6zM83 33h6v1h-6zM8 34h5v1h-5zM82 34h5v1h-5zM10 35h5v1h-5zM80 35h5v1h-5zM12 36h4v1h-4zM79 36h4v1h-4zM13 37h5v1h-5zM77 37h5v1h-5zM15 38h4v1h-4zM76 38h4v1h-4zM16 39h5v1h-5zM74 39h5v1h-5zM18 40h4v1h-4zM73 40h4v1h-4zM19 41h4v1h-4zM72 41h4v1h-4zM21 42h4v1h-4zM70 42h4v1h-4zM22 43h4v1h-4zM69 43h4v1h-4zM23 44h5v1h-5zM67 44h5v1h-5zM25 45h4v1h-4zM66 45h4v1h-4zM26 46h5v1h-5zM64 46h5v1h-5zM28 47h5v1h-5zM63 47h4v1h-4zM29 48h5v1h-5zM61 48h5v1h-5zM31 49h5v1h-5zM59 49h5v1h-5zM32 50h6v1h-6zM57 50h6v1h-6zM34 51h7v1h-7zM54 51h7v1h-7zM36 52h9v1h-9zM50 52h9v1h-9zM38 53h19v1h-19zM41 54h13v1h-13zM45 55h5v1h-5z"/>
<path fill="#d1bb59" d="M0 25h1v1h-1zM94 25h7v1h-7zM0 26h4v1h-4zM91 26h10v1h-10zM0 27h7v1h-7zM89 27h12v1h-12zM0 28h9v1h-9zM87 28h8v1h-8zM3 29h7v1h-7zM85 29h7v1h-7zM6 30h6v1h-6zM83 30h6v1h-6zM8 31h6v1h-6zM81 31h6v1h-6zM10 32h5v1h-5zM80 32h5v1h-5zM12 33h5v1h-5zM78 33h5v1h-5zM13 34h5v1h-5zM77 34h5v1h-5zM15 35h4v1h-4zM76 35h4v1h-4zM16 36h5v1h-5zM74 36h5v1h-5zM18 37h4v1h-4zM73 37h4v1h-4zM19 38h5v1h-5zM71 38h5v1h-5zM21 39h4v1h-4zM70 39h4v1h-4zM22 40h4v1h-4zM69 40h4v1h-4zM23 41h5v1h-5zM67 41h5v1h-5zM25 42h4v1h-4zM66 42h4v1h-4zM26 43h5v1h-5zM64 43h5v1h-5zM28 44h5v1h-5zM62 44h5v1h-5zM29 45h5v1h-5zM61 45h5v1h-5zM31 46h5v1h-5zM59 46h5v1h-5zM33 47h5v1h-5zM57 47h6v1h-6zM34 48h7v1h-7zM54 48h7v1h-7zM36 49h9v1h-9zM50 49h9v1h-9zM38 50h19v1h-19zM41 51h13v1h-13zM45 52h5v1h-5z"/>
<path fill="#d9ba56" d="M97 21h2v1h-2zM0 22h2v1h-2zM93 22h8v1h-8zM0 23h5v1h-5zM90 23h11v1h-11zM0 24h7v1h-7zM88 24h13v1h-13zM1 25h8v1h-8zM86 25h8v1h-8zM4 26h7v1h-7zM84 26h7v1h-7zM7 27h5v1h-5zM83 27h6v1h-6zM9 28h5v1h-5zM81 28h6v1h-6zM10 29h5v1h-5zM80 29h5v1h-5zM12 30h5v1h-5zM78 30h5v1h-5zM14 31h4v1h-4zM77 31h4v1h-4zM15 32h5v1h-5zM75 32h5v1h-5zM17 33h4v1h-4zM74 33h4v1h-4zM18 34h4v1h-4zM73 34h4v1h-4zM19 35h5v1h-5zM71 35h5v1h-5zM21 36h4v1h-4zM70 36h4v1h-4zM22 37h5v1h-5zM68 37h5v1h-5zM24 38h4v1h-4zM67 38h4v1h-4zM25 39h4v1h-4zM66 39h4v1h-4zM26 40h5v1h-5zM64 40h5v1h-5zM28 41h5v1h-5zM62 41h5v1h-5zM29 42h5v1h-5zM61 42h5v1h-5zM31 43h5v1h-5zM59 43h5v1h-5zM33 44h6v1h-6zM56 44h6v1h-6zM34 45h7v1h-7zM54 45h7v1h-7zM36 46h9v1h-9zM50 46h9v1h-9zM38 47h19v1h-19zM41 48h13v1h-13zM45 49h5v1h-5z"/>
<path fill="#e1b952" d="M0 18h1v1h-1zM94 18h7v1h-7zM0 19h4v1h-4zM91 19h10v1h-10zM0 20h6v1h-6zM89 20h12v1h-12zM0 21h8v1h-8zM87 21h10v1h-10zM99 21h2v1h-2zM2 22h8v1h-8zM85 22h8v1h-8zM5 23h6v1h-6zM84 23h6v1h-6zM7 24h6v1h-6zM82 24h6v1h-6zM9 25h5v1h-5zM81 25h5v1h-5zM11 26h5v1h-5zM79 26h5v1h-5zM12 27h5v1h-5zM78 27h5v1h-5zM14 28h4v1h-4zM77 28h4v1h-4zM15 29h5v1h-5zM75 29h5v1h-5zM17 30h4v1h-4zM74 30h4v1h-4zM18 31h5v1h-5zM72 31h5v1h-5zM20 32h4v1h-4zM71 32h4v1h-4zM21 33h4v1h-4zM70 33h4v1h-4zM22 34h5v1h-5zM68 34h5v1h-5zM24 35h4v1h-4zM67 35h4v1h-4zM25 36h5v1h-5zM65 36h5v1h-5zM27 37h4v1h-4zM64 37h4v1h-4zM28 38h5v1h-5zM62 38h5v1h-5zM29 39h6v1h-6zM60 39h6v1h-6zM31 40h6v1h-6zM59 40h5v1h-5zM33 41h6v1h-6zM56 41h6v1h-6zM34 42h7v1h-7zM54 42h7v1h-7zM36 43h9v1h-9zM50 43h9v1h-9zM39 44h17v1h-17zM41 45h13v1h-13zM45 46h5v1h-5z"/>
<path fill="#e9b94e" d="M96 14h4v1h-4zM0 15h3v1h-3zM92 15h9v1h-9zM0 16h5v1h-5zM90 16h11v1h-11zM0 17h7v1h-7zM88 17h13v1h-13zM1 18h8v1h-8zM86 18h8v1h-8zM4 19h6v1h-6zM85 19h6v1h-6zM6 20h6v1h-6zM83 20h6v1h-6zM8 21h5v1h-5zM82 21h5v1h-5zM10 22h5v1h-5zM80 22h5v1h-5zM11 23h5v1h-5zM79 23h5v1h-5zM13 24h4v1h-4zM78 24h4v1h-4zM14 25h5v1h-5zM76 25h5v1h-5zM16 26h4v1h-4zM75 26h4v1h-4zM17 27h4v1h-4zM74 27h4v1h-4zM18 28h5v1h-5zM72 28h5v1h-5zM20 29h4v1h-4zM71 29h4v1h-4zM21 30h4v1h-4zM70 30h4v1h-4zM23 31h4v1h-4zM68 31h4v1h-4zM24 32h4v1h-4zM67 32h4v1h-4zM25 33h5v1h-5zM65 33h5v1h-5zM27 34h4v1h-4zM64 34h4v1h-4zM28 35h5v1h-5zM62 35h5v1h-5zM30 36h5v1h-5zM60 36h5v1h-5zM31 37h6v1h-6zM58 37h6v1h-6zM33 38h6v1h-6zM56 38h6v1h-6zM35 39h7v1h-7zM53 39h7v1h-7zM37 40h9v1h-9zM49 40h10v1h-10zM39 41h17v1h-17zM41 42h13v1h-13zM45 43h5v1h-5z"/>
<path fill="#f1b94a" d="M96 10h4v1h-4zM0 11h2v1h-2zM93 11h8v1h-8zM0 12h4v1h-4zM91 12h10v1h-10zM0 13h6v1h-6zM89 13h12v1h-12zM0 14h8v1h-8zM87 14h9v1h-9zM100 14h1v1h-1zM3 15h7v1h-7zM85 15h7v1h-7zM5 16h6v1h-6zM84 16h6v1h-6zM7 17h6v1h-6zM82 17h6v1h-6zM9 18h5v1h-5zM81 18h5v1h-5zM10 19h5v1h-5zM80 19h5v1h-5zM12 20h5v1h-5zM78 20h5v1h-5zM13 21h5v1h-5zM77 21h5v1h-5zM15 22h4v1h-4zM76 22h4v1h-4zM16 23h4v1h-4zM75 23h4v1h-4zM17 24h5v1h-5zM73 24h5v1h-5zM19 25h4v1h-4zM72 25h4v1h-4zM20 26h4v1h-4zM71 26h4v1h-4zM21 27h5v1h-5zM69 27h5v1h-5zM23 28h4v1h-4zM68 28h4v1h-4zM24 29h5v1h-5zM66 29h5v1h-5zM25 30h5v1h-5zM65 30h5v1h-5zM27 31h5v1h-5zM63 31h5v1h-5zM28 32h5v1h-5zM62 32h5v1h-5zM30 33h5v1h-5zM60 33h5v1h-5zM31 34h6v1h-6zM58 34h6v1h-6zM33 35h6v1h-6zM56 35h6v1h-6zM35 36h7v1h-7zM53 36h7v1h-7zM37 37h10v1h-10zM48 37h10v1h-10zM39 38h17v1h-17zM42 39h11v1h-11zM46 40h3v1h-3z"/>
<path fill="#f8bb44" d="M96 6h4v1h-4zM0 7h2v1h-2zM93 7h8v1h-8zM0 8h4v1h-4zM91 8h10v1h-10zM0 9h6v1h-6zM89 9h12v1h-12zM0 10h8v1h-8zM87 10h9v1h-9zM100 10h1v1h-1zM2 11h7v1h-7zM86 11h7v1h-7zM4 12h7v1h-7zM84 12h7v1h-7zM6 13h6v1h-6zM83 13h6v1h-6zM8 14h5v1h-5zM82 14h5v1h-5zM10 15h5v1h-5zM80 15h5v1h-5zM11 16h5v1h-5zM79 16h5v1h-5zM13 17h4v1h-4zM78 17h4v1h-4zM14 18h4v1h-4zM77 18h4v1h-4zM15 19h5v1h-5zM75 19h5v1h-5zM17 20h4v1h-4zM74 20h4v1h-4zM18 21h4v1h-4zM73 21h4v1h-4zM19 22h4v1h-4zM72 22h4v1h-4zM20 23h5v1h-5zM70 23h5v1h-5zM22 24h4v1h-4zM69 24h4v1h-4zM23 25h4v1h-4zM68 25h4v1h-4zM24 26h5v1h-5zM66 26h5v1h-5zM26 27h4v1h-4zM65 27h4v1h-4zM27 28h5v1h-5zM63 28h5v1h-5zM29 29h4v1h-4zM62 29h4v1h-4zM30 30h5v1h-5zM60 30h5v1h-5zM32 31h5v1h-5zM58 31h5v1h-5zM33 32h7v1h-7zM56 32h6v1h-6zM35 33h7v1h-7zM53 33h7v1h-7zM37 34h21v1h-21zM39 35h17v1h-17zM42 36h11v1h-11zM47 37h1v1h-1z"/>
<path fill="#fdbe3d" d="M95 2h6v1h-6zM0 3h3v1h-3zM92 3h9v1h-9zM0 4h5v1h-5zM90 4h11v1h-11zM0 5h6v1h-6zM89 5h12v1h-12zM0 6h8v1h-8zM87 6h9v1h-9zM100 6h1v1h-1zM2 7h7v1h-7zM86 7h7v1h-7zM4 8h6v1h-6zM85 8h6v1h-6zM6 9h6v1h-6zM83 9h6v1h-6zM8 10h5v1h-5zM82 10h5v1h-5zM9 11h5v1h-5zM81 11h5v1h-5zM11 12h4v1h-4zM80 12h4v1h-4zM12 13h5v1h-5zM78 13h5v1h-5zM13 14h5v1h-5zM77 14h5v1h-5zM15 15h4v1h-4zM76 15h4v1h-4zM16 16h4v1h-4zM75 16h4v1h-4zM17 17h4v1h-4zM74 17h4v1h-4zM18 18h5v1h-5zM72 18h5v1h-5zM20 19h4v1h-4zM71 19h4v1h-4zM21 20h4v1h-4zM70 20h4v1h-4zM22 21h4v1h-4zM69 21h4v1h-4zM23 22h5v1h-5zM67 22h5v1h-5zM25 23h4v1h-4zM66 23h4v1h-4zM26 24h5v1h-5zM64 24h5v1h-5zM27 25h5v1h-5zM63 25h5v1h-5zM29 26h5v1h-5zM61 26h5v1h-5zM30 27h6v1h-6zM59 27h6v1h-6zM32 28h6v1h-6zM57 28h6v1h-6zM33 29h7v1h-7zM55 29h7v1h-7zM35 30h8v1h-8zM52 30h8v1h-8zM37 31h21v1h-21zM40 32h16v1h-16zM42 33h11v1h-11z"/>
<path fill="#ffc337" d="M0 0h5v1h-5zM90 0h11v1h-11zM0 1h7v1h-7zM88 1h13v1h-13zM0 2h8v1h-8zM87 2h8v1h-8zM3 3h6v1h-6zM86 3h6v1h-6zM5 4h5v1h-5zM85 4h5v1h-5zM6 5h6v1h-6zM83 5h6v1h-6zM8 6h5v1h-5zM82 6h5v1h-5zM9 7h5v1h-5zM81 7h5v1h-5zM10 8h5v1h-5zM80 8h5v1h-5zM12 9h4v1h-4zM79 9h4v1h-4zM13 10h4v1h-4zM78 10h4v1h-4zM14 11h4v1h-4zM77 11h4v1h-4zM15 12h5v1h-5zM75 12h5v1h-5zM17 13h4v1h-4zM74 13h4v1h-4zM18 14h4v1h-4zM73 14h4v1h-4zM19 15h4v1h-4zM72 15h4v1h-4zM20 16h4v1h-4zM71 16h4v1h-4zM21 17h5v1h-5zM69 17h5v1h-5zM23 18h4v1h-4zM68 18h4v1h-4zM24 19h4v1h-4zM67 19h4v1h-4zM25 20h5v1h-5zM65 20h5v1h-5zM26 21h5v1h-5zM64 21h5v1h-5zM28 22h5v1h-5zM62 22h5v1h-5zM29 23h5v1h-5zM61 23h5v1h-5zM31 24h5v1h-5zM59 24h5v1h-5zM32 25h6v1h-6zM57 25h6v1h-6zM34 26h6v1h-6zM55 26h6v1h-6zM36 27h8v1h-8zM51 27h8v1h-8zM38 28h19v1h-19zM40 29h15v1h-15zM43 30h9v1h-9z"/>
<path fill="#fec832" d="M5 0h6v1h-6zM84 0h6v1h-6zM7 1h5v1h-5zM83 1h5v1h-5zM8 2h5v1h-5zM82 2h5v1h-5zM9 3h5v1h-5zM81 3h5v1h-5zM10 4h5v1h-5zM80 4h5v1h-5zM12 5h4v1h-4zM79 5h4v1h-4zM13 6h4v1h-4zM78 6h4v1h-4zM14 7h4v1h-4zM77 7h4v1h-4zM15 8h4v1h-4zM76 8h4v1h-4zM16 9h4v1h-4zM75 9h4v1h-4zM17 10h4v1h-4zM74 10h4v1h-4zM18 11h5v1h-5zM72 11h5v1h-5zM20 12h4v1h-4zM71 12h4v1h-4zM21 13h4v1h-4zM70 13h4v1h-4zM22 14h4v1h-4zM69 14h4v1h-4zM23 15h4v1h-4zM68 15h4v1h-4zM24 16h5v1h-5zM66 16h5v1h-5zM26 17h4v1h-4zM65 17h4v1h-4zM27 18h4v1h-4zM64 18h4v1h-4zM28 19h5v1h-5zM62 19h5v1h-5zM30 20h5v1h-5zM60 20h5v1h-5zM31 21h5v1h-5zM59 21h5v1h-5zM33 22h5v1h-5zM57 22h5v1h-5zM34 23h7v1h-7zM54 23h7v1h-7zM36 24h8v1h-8zM51 24h8v1h-8zM38 25h19v1h-19zM40 26h15v1h-15zM44 27h7v1h-7z"/>
<path fill="#fcce2e" d="M11 0h4v1h-4zM80 0h4v1h-4zM12 1h4v1h-4zM79 1h4v1h-4zM13 2h4v1h-4zM78 2h4v1h-4zM14 3h4v1h-4zM77 3h4v1h-4zM15 4h4v1h-4zM76 4h4v1h-4zM16 5h4v1h-4zM75 5h4v1h-4zM17 6h4v1h-4zM74 6h4v1h-4zM18 7h4v1h-4zM73 7h4v1h-4zM19 8h4v1h-4zM72 8h4v1h-4zM20 9h4v1h-4zM71 9h4v1h-4zM21 10h4v1h-4zM70 10h4v1h-4zM23 11h4v1h-4zM68 11h4v1h-4zM24 12h4v1h-4zM67 12h4v1h-4zM25 13h4v1h-4zM66 13h4v1h-4zM26 14h4v1h-4zM65 14h4v1h-4zM27 15h5v1h-5zM63 15h5v1h-5zM29 16h4v1h-4zM62 16h4v1h-4zM30 17h5v1h-5zM60 17h5v1h-5zM31 18h6v1h-6zM58 18h6v1h-6zM33 19h6v1h-6zM56 19h6v1h-6zM35 20h7v1h-7zM54 20h6v1h-6zM36 21h9v1h-9zM50 21h9v1h-9zM38 22h19v1h-19zM41 23h13v1h-13zM44 24h7v1h-7z"/>
<path fill="#fad32a" d="M15 0h4v1h-4zM76 0h4v1h-4zM16 1h4v1h-4zM75 1h4v1h-4zM17 2h4v1h-4zM74 2h4v1h-4zM18 3h4v1h-4zM73 3h4v1h-4zM19 4h4v1h-4zM72 4h4v1h-4zM20 5h4v1h-4zM71 5h4v1h-4zM21 6h4v1h-4zM70 6h4v1h-4zM22 7h4v1h-4zM69 7h4v1h-4zM23 8h4v1h-4zM68 8h4v1h-4zM24 9h4v1h-4zM67 9h4v1h-4zM25 10h5v1h-5zM65 10h5v1h-5zM27 11h4v1h-4zM64 11h4v1h-4zM28 12h4v1h-4zM63 12h4v1h-4zM29 13h5v1h-5zM61 13h5v1h-5zM30 14h6v1h-6zM59 14h6v1h-6zM32 15h5v1h-5zM58 15h5v1h-5zM33 16h7v1h-7zM55 16h7v1h-7zM35 17h7v1h-7zM53 17h7v1h-7zM37 18h10v1h-10zM48 18h10v1h-10zM39 19h17v1h-17zM42 20h12v1h-12zM45 21h5v1h-5z"/>
<path fill="#f7d826" d="M19 0h4v1h-4zM72 0h4v1h-4zM20 1h4v1h-4zM71 1h4v1h-4zM21 2h4v1h-4zM70 2h4v1h-4zM22 3h4v1h-4zM69 3h4v1h-4zM23 4h4v1h-4zM68 4h4v1h-4zM24 5h4v1h-4zM67 5h4v1h-4zM25 6h4v1h-4zM66 6h4v1h-4zM26 7h4v1h-4zM65 7h4v1h-4zM27 8h5v1h-5zM63 8h5v1h-5zM28 9h5v1h-5zM62 9h5v1h-5zM30 10h5v1h-5zM60 10h5v1h-5zM31 11h5v1h-5zM59 11h5v1h-5zM32 12h6v1h-6zM57 12h6v1h-6zM34 13h6v1h-6zM55 13h6v1h-6zM36 14h7v1h-7zM52 14h7v1h-7zM37 15h21v1h-21zM40 16h15v1h-15zM42 17h11v1h-11zM47 18h1v1h-1z"/>
<path fill="#f5de21" d="M23 0h4v1h-4zM68 0h4v1h-4zM24 1h4v1h-4zM67 1h4v1h-4zM25 2h4v1h-4zM66 2h4v1h-4zM26 3h4v1h-4zM65 3h4v1h-4zM27 4h4v1h-4zM64 4h4v1h-4zM28 5h4v1h-4zM63 5h4v1h-4zM29 6h5v1h-5zM61 6h5v1h-5zM30 7h5v1h-5zM60 7h5v1h-5zM32 8h5v1h-5zM58 8h5v1h-5zM33 9h6v1h-6zM56 9h6v1h-6zM35 10h6v1h-6zM54 10h6v1h-6zM36 11h8v1h-8zM51 11h8v1h-8zM38 12h19v1h-19zM40 13h15v1h-15zM43 14h9v1h-9z"/>
<path fill="#f5e41d" d="M27 0h4v1h-4zM64 0h4v1h-4zM28 1h4v1h-4zM63 1h4v1h-4zM29 2h4v1h-4zM62 2h4v1h-4zM30 3h4v1h-4zM61 3h4v1h-4zM31 4h5v1h-5zM59 4h5v1h-5zM32 5h6v1h-6zM57 5h6v1h-6zM34 6h5v1h-5zM56 6h5v1h-5zM35 7h7v1h-7zM53 7h7v1h-7zM37 8h8v1h-8zM50 8h8v1h-8zM39 9h17v1h-17zM41 10h13v1h-13zM44 11h7v1h-7z"/>
<path fill="#f5eb18" d="M31 0h4v1h-4zM60 0h4v1h-4zM32 1h5v1h-5zM58 1h5v1h-5zM33 2h5v1h-5zM57 2h5v1h-5zM34 3h6v1h-6zM55 3h6v1h-6zM36 4h7v1h-7zM52 4h7v1h-7zM38 5h9v1h-9zM48 5h9v1h-9zM39 6h17v1h-17zM42 7h11v1h-11zM45 8h5v1h-5z"/>
<path fill="#f6f313" d="M35 0h6v1h-6zM54 0h6v1h-6zM37 1h7v1h-7zM51 1h7v1h-7zM38 2h19v1h-19zM40 3h15v1h-15zM43 4h9v1h-9zM47 5h1v1h-1z"/>
<path fill="#f9fb0e" d="M41 0h13v1h-13zM44 1h7v1h-7z"/>
</g>
<rect x="293.05" y="1095.20" width="1711.90" height="5.50" fill="#262626"/>
<rect x="293.05" y="1450.70" width="1711.90" height="5.00" fill="#262626"/>
<rect x="293.05" y="1095.20" width="4.75" height="360.50" fill="#262626"/>
<rect x="1999.30" y="1095.20" width="5.65" height="360.50" fill="#262626"/>
<path d="M295.50 1451.00h19.40M2002.10 1451.00h-19.40M295.50 1380.70h19.40M2002.10 1380.70h-19.40M295.50 1310.40h19.40M2002.10 1310.40h-19.40M295.50 1240.10h19.40M2002.10 1240.10h-19.40M295.50 1169.80h19.40M2002.10 1169.80h-19.40M295.50 1099.50h19.40M2002.10 1099.50h-19.40M763.00 1452.76v-19.40M763.00 1097.74v19.40M1230.60 1452.76v-19.40M1230.60 1097.74v19.40M1698.20 1452.76v-19.40M1698.20 1097.74v19.40" stroke="#262626" stroke-width="5.20" fill="none"/>
<text x="244.60" y="1196.40" font-size="81.50" text-anchor="end">100</text>
<text x="250.80" y="1337.80" font-size="81.50" text-anchor="end">60</text>
<text x="251.50" y="1478.30" font-size="81.50" text-anchor="end">20</text>
<text transform="translate(232.00 1557.10) scale(0.9680 1)" font-size="83.00" text-anchor="start">Jan</text>
<text transform="translate(693.50 1557.10) scale(0.9680 1)" font-size="83.00" text-anchor="start">Apr</text>
<text transform="translate(1182.60 1557.10) scale(0.9680 1)" font-size="83.00" text-anchor="start">Jul</text>
<text transform="translate(1627.00 1557.10) scale(0.9680 1)" font-size="83.00" text-anchor="start">Oct</text>
<text transform="translate(872.00 1681.50) scale(0.9745 1)" font-size="103.60" text-anchor="start">Date (mm)</text>
<text transform="translate(72 748.3) rotate(-90)" font-size="83" text-anchor="middle" style="font-family:'DejaVu Math TeX Gyre','Liberation Serif',serif;font-style:italic">σ</text>
<g shape-rendering="crispEdges">
<rect x="2095.60" y="1222.73" width="92.90" height="16.97" fill="#352a87"/>
<rect x="2095.60" y="1206.26" width="92.90" height="16.97" fill="#363093"/>
<rect x="2095.60" y="1189.79" width="92.90" height="16.97" fill="#3637a0"/>
<rect x="2095.60" y="1173.32" width="92.90" height="16.97" fill="#353dad"/>
<rect x="2095.60" y="1156.85" width="92.90" height="16.97" fill="#3243ba"/>
<rect x="2095.60" y="1140.38" width="92.90" height="16.97" fill="#2c4ac7"/>
<rect x="2095.60" y="1123.91" width="92.90" height="16.97" fill="#2053d4"/>
<rect x="2095.60" y="1107.44" width="92.90" height="16.97" fill="#0f5cdd"/>
<rect x="2095.60" y="1090.97" width="92.90" height="16.97" fill="#0363e1"/>
<rect x="2095.60" y="1074.50" width="92.90" height="16.97" fill="#0268e1"/>
<rect x="2095.60" y="1058.03" width="92.90" height="16.97" fill="#046de0"/>
<rect x="2095.60" y="1041.56" width="92.90" height="16.97" fill="#0871de"/>
<rect x="2095.60" y="1025.09" width="92.90" height="16.97" fill="#0d75dc"/>
<rect x="2095.60" y="1008.62" width="92.90" height="16.97" fill="#1079da"/>
<rect x="2095.60" y="992.15" width="92.90" height="16.97" fill="#127dd8"/>
<rect x="2095.60" y="975.68" width="92.90" height="16.97" fill="#1481d6"/>
<rect x="2095.60" y="959.21" width="92.90" height="16.97" fill="#1485d4"/>
<rect x="2095.60" y="942.74" width="92.90" height="16.97" fill="#1389d3"/>
<rect x="2095.60" y="926.27" width="92.90" height="16.97" fill="#108ed2"/>
<rect x="2095.60" y="909.80" width="92.90" height="16.97" fill="#0c93d2"/>
<rect x="2095.60" y="893.33" width="92.90" height="16.97" fill="#0998d1"/>
<rect x="2095.60" y="876.86" width="92.90" height="16.97" fill="#079ccf"/>
<rect x="2095.60" y="860.39" width="92.90" height="16.97" fill="#06a0cd"/>
<rect x="2095.60" y="843.92" width="92.90" height="16.97" fill="#06a4ca"/>
<rect x="2095.60" y="827.45" width="92.90" height="16.97" fill="#06a7c6"/>
<rect x="2095.60" y="810.98" width="92.90" height="16.97" fill="#07a9c2"/>
<rect x="2095.60" y="794.51" width="92.90" height="16.97" fill="#0aacbe"/>
<rect x="2095.60" y="778.04" width="92.90" height="16.97" fill="#0faeb9"/>
<rect x="2095.60" y="761.57" width="92.90" height="16.97" fill="#15b1b4"/>
<rect x="2095.60" y="745.10" width="92.90" height="16.97" fill="#1db3af"/>
<rect x="2095.60" y="728.63" width="92.90" height="16.97" fill="#25b5a9"/>
<rect x="2095.60" y="712.16" width="92.90" height="16.97" fill="#2eb7a4"/>
<rect x="2095.60" y="695.69" width="92.90" height="16.97" fill="#38b99e"/>
<rect x="2095.60" y="679.22" width="92.90" height="16.97" fill="#42bb98"/>
<rect x="2095.60" y="662.75" width="92.90" height="16.97" fill="#4dbc92"/>
<rect x="2095.60" y="646.28" width="92.90" height="16.97" fill="#59bd8c"/>
<rect x="2095.60" y="629.81" width="92.90" height="16.97" fill="#65be86"/>
<rect x="2095.60" y="613.34" width="92.90" height="16.97" fill="#71bf80"/>
<rect x="2095.60" y="596.87" width="92.90" height="16.97" fill="#7cbf7b"/>
<rect x="2095.60" y="580.40" width="92.90" height="16.97" fill="#87bf77"/>
<rect x="2095.60" y="563.93" width="92.90" height="16.97" fill="#92bf73"/>
<rect x="2095.60" y="547.46" width="92.90" height="16.97" fill="#9cbf6f"/>
<rect x="2095.60" y="530.99" width="92.90" height="16.97" fill="#a5be6b"/>
<rect x="2095.60" y="514.52" width="92.90" height="16.97" fill="#aebe67"/>
<rect x="2095.60" y="498.05" width="92.90" height="16.97" fill="#b7bd64"/>
<rect x="2095.60" y="481.58" width="92.90" height="16.97" fill="#c0bc60"/>
<rect x="2095.60" y="465.11" width="92.90" height="16.97" fill="#c8bc5d"/>
<rect x="2095.60" y="448.64" width="92.90" height="16.97" fill="#d1bb59"/>
<rect x="2095.60" y="432.17" width="92.90" height="16.97" fill="#d9ba56"/>
<rect x="2095.60" y="415.70" width="92.90" height="16.97" fill="#e1b952"/>
<rect x="2095.60" y="399.23" width="92.90" height="16.97" fill="#e9b94e"/>
<rect x="2095.60" y="382.76" width="92.90" height="16.97" fill="#f1b94a"/>
<rect x="2095.60" y="366.29" width="92.90" height="16.97" fill="#f8bb44"/>
<rect x="2095.60" y="349.82" width="92.90" height="16.97" fill="#fdbe3d"/>
<rect x="2095.60" y="333.35" width="92.90" height="16.97" fill="#ffc337"/>
<rect x="2095.60" y="316.88" width="92.90" height="16.97" fill="#fec832"/>
<rect x="2095.60" y="300.41" width="92.90" height="16.97" fill="#fcce2e"/>
<rect x="2095.60" y="283.94" width="92.90" height="16.97" fill="#fad32a"/>
<rect x="2095.60" y="267.47" width="92.90" height="16.97" fill="#f7d826"/>
<rect x="2095.60" y="251.00" width="92.90" height="16.97" fill="#f5de21"/>
<rect x="2095.60" y="234.53" width="92.90" height="16.97" fill="#f5e41d"/>
<rect x="2095.60" y="218.06" width="92.90" height="16.97" fill="#f5eb18"/>
<rect x="2095.60" y="201.59" width="92.90" height="16.97" fill="#f6f313"/>
<rect x="2095.60" y="192.60" width="92.90" height="9.49" fill="#f9fb0e"/>
</g>
<rect x="2095.60" y="191.40" width="92.90" height="1050.00" fill="none" stroke="#262626" stroke-width="4.80"/>
<text transform="translate(2212.50 1247.10) scale(0.9750 1)" font-size="75.00" text-anchor="start">8</text>
<text transform="translate(2212.50 956.35) scale(0.9750 1)" font-size="75.00" text-anchor="start">8.5</text>
<text transform="translate(2212.50 665.60) scale(0.9750 1)" font-size="75.00" text-anchor="start">9</text>
<text transform="translate(2212.50 374.85) scale(0.9750 1)" font-size="75.00" text-anchor="start">9.5</text>
<path d="M2188.50 1222.50h-13.5M2188.50 931.75h-13.5M2188.50 641.00h-13.5M2188.50 350.25h-13.5" stroke="#262626" stroke-width="5.20" fill="none"/>
<text transform="translate(2353.60 385.30) rotate(90) scale(1.0000 1)" font-size="81.00">log(N</text>
<text transform="translate(2313.90 602.50) rotate(90) scale(1.0000 1)" font-size="65.00">e0</text>
<text transform="translate(2391.80 602.50) rotate(90) scale(0.9670 1)" font-size="65.00">midday</text>
<text transform="translate(2353.60 838.50) rotate(90) scale(1.0000 1)" font-size="81.00">/m</text>
<text transform="translate(2391.80 945.50) rotate(90) scale(1.0000 1)" font-size="65.00">-3</text>
<text transform="translate(2353.60 1008.20) rotate(90) scale(1.0000 1)" font-size="81.00">)</text>
</svg></body></html>
